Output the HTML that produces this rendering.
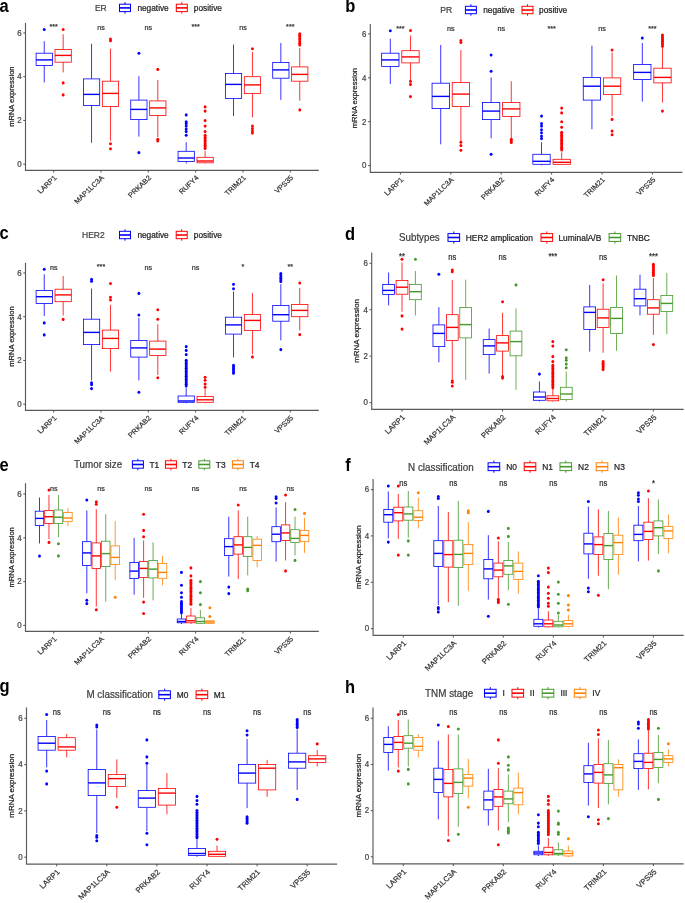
<!DOCTYPE html>
<html><head><meta charset="utf-8"><style>
html,body{margin:0;padding:0;background:#fff;}
body{width:685px;height:903px;overflow:hidden;}
svg{display:block;font-family:"Liberation Sans",sans-serif;will-change:transform;}
</style></head><body>
<svg width="685" height="903" viewBox="0 0 685 903">
<rect width="685" height="903" fill="#fff"/>
<text transform="translate(-0.6,11.6) scale(1,1.07)" font-size="16.5" text-anchor="start" fill="#000" font-weight="bold">a</text>
<path d="M44.24 41.2V53.2M44.24 65.4V82.4" stroke="#0000FF" stroke-width="0.8" fill="none"/>
<rect x="36.1" y="53.2" width="16.28" height="12.2" fill="#fff" stroke="#0000FF" stroke-width="0.8"/>
<path d="M36.1 59.9H52.38" stroke="#0000FF" stroke-width="1.4"/>
<ellipse cx="44.24" cy="29.5" rx="1.45" ry="1.55" fill="#0000FF"/>
<path d="M63.16 34.2V49.5M63.16 62.2V72.4" stroke="#FF0000" stroke-width="0.8" fill="none"/>
<rect x="55.02" y="49.5" width="16.28" height="12.7" fill="#fff" stroke="#FF0000" stroke-width="0.8"/>
<path d="M55.02 55.4H71.3" stroke="#FF0000" stroke-width="1.4"/>
<ellipse cx="63.16" cy="29.5" rx="1.45" ry="1.55" fill="#FF0000"/>
<ellipse cx="63.16" cy="82.9" rx="1.45" ry="1.55" fill="#FF0000"/>
<ellipse cx="63.16" cy="94.9" rx="1.45" ry="1.55" fill="#FF0000"/>
<path d="M91.56 43.7V78.9M91.56 105.4V142.8" stroke="#0000FF" stroke-width="0.8" fill="none"/>
<rect x="83.42" y="78.9" width="16.28" height="26.5" fill="#fff" stroke="#0000FF" stroke-width="0.8"/>
<path d="M83.42 94.4H99.7" stroke="#0000FF" stroke-width="1.4"/>
<path d="M110.48 48.7V81.2M110.48 106.4V140.8" stroke="#FF0000" stroke-width="0.8" fill="none"/>
<rect x="102.34" y="81.2" width="16.28" height="25.2" fill="#fff" stroke="#FF0000" stroke-width="0.8"/>
<path d="M102.34 93.4H118.62" stroke="#FF0000" stroke-width="1.4"/>
<ellipse cx="110.48" cy="39" rx="1.45" ry="1.55" fill="#FF0000"/>
<ellipse cx="110.48" cy="40.7" rx="1.45" ry="1.55" fill="#FF0000"/>
<ellipse cx="110.48" cy="143.8" rx="1.45" ry="1.55" fill="#FF0000"/>
<ellipse cx="110.48" cy="148.8" rx="1.45" ry="1.55" fill="#FF0000"/>
<path d="M138.88 76.2V100.1M138.88 119.6V136.6" stroke="#0000FF" stroke-width="0.8" fill="none"/>
<rect x="130.74" y="100.1" width="16.28" height="19.5" fill="#fff" stroke="#0000FF" stroke-width="0.8"/>
<path d="M130.74 109.4H147.02" stroke="#0000FF" stroke-width="1.4"/>
<ellipse cx="138.88" cy="53.2" rx="1.45" ry="1.55" fill="#0000FF"/>
<ellipse cx="138.88" cy="152.6" rx="1.45" ry="1.55" fill="#0000FF"/>
<path d="M157.8 79.9V100.9M157.8 115.6V137" stroke="#FF0000" stroke-width="0.8" fill="none"/>
<rect x="149.66" y="100.9" width="16.28" height="14.7" fill="#fff" stroke="#FF0000" stroke-width="0.8"/>
<path d="M149.66 107.9H165.94" stroke="#FF0000" stroke-width="1.4"/>
<ellipse cx="157.8" cy="69.4" rx="1.45" ry="1.55" fill="#FF0000"/>
<ellipse cx="157.8" cy="139.3" rx="1.45" ry="1.55" fill="#FF0000"/>
<ellipse cx="157.8" cy="140.9" rx="1.45" ry="1.55" fill="#FF0000"/>
<path d="M186.2 142.3V151.3M186.2 161.5V163.5" stroke="#0000FF" stroke-width="0.8" fill="none"/>
<rect x="178.06" y="151.3" width="16.28" height="10.2" fill="#fff" stroke="#0000FF" stroke-width="0.8"/>
<path d="M178.06 158H194.34" stroke="#0000FF" stroke-width="1.4"/>
<ellipse cx="186.2" cy="114.9" rx="1.45" ry="1.55" fill="#0000FF"/>
<ellipse cx="186.2" cy="121.8" rx="1.45" ry="1.55" fill="#0000FF"/>
<ellipse cx="186.2" cy="123.6" rx="1.45" ry="1.55" fill="#0000FF"/>
<ellipse cx="186.2" cy="126.1" rx="1.45" ry="1.55" fill="#0000FF"/>
<ellipse cx="186.2" cy="129.1" rx="1.45" ry="1.55" fill="#0000FF"/>
<ellipse cx="186.2" cy="131.6" rx="1.45" ry="1.55" fill="#0000FF"/>
<ellipse cx="186.2" cy="135.3" rx="1.45" ry="1.55" fill="#0000FF"/>
<path d="M205.12 151V157.3M205.12 162.8V163.5" stroke="#FF0000" stroke-width="0.8" fill="none"/>
<rect x="196.98" y="157.3" width="16.28" height="5.5" fill="#fff" stroke="#FF0000" stroke-width="0.8"/>
<path d="M196.98 161H213.26" stroke="#FF0000" stroke-width="1.4"/>
<ellipse cx="205.12" cy="106.9" rx="1.45" ry="1.55" fill="#FF0000"/>
<ellipse cx="205.12" cy="111.1" rx="1.45" ry="1.55" fill="#FF0000"/>
<ellipse cx="205.12" cy="120.6" rx="1.45" ry="1.55" fill="#FF0000"/>
<ellipse cx="205.12" cy="126.1" rx="1.45" ry="1.55" fill="#FF0000"/>
<ellipse cx="205.12" cy="131.6" rx="1.45" ry="1.55" fill="#FF0000"/>
<ellipse cx="205.12" cy="135.3" rx="1.45" ry="1.55" fill="#FF0000"/>
<ellipse cx="205.12" cy="137.3" rx="1.45" ry="1.55" fill="#FF0000"/>
<ellipse cx="205.12" cy="138.9" rx="1.45" ry="1.55" fill="#FF0000"/>
<ellipse cx="205.12" cy="140.5" rx="1.45" ry="1.55" fill="#FF0000"/>
<ellipse cx="205.12" cy="142.1" rx="1.45" ry="1.55" fill="#FF0000"/>
<ellipse cx="205.12" cy="143.7" rx="1.45" ry="1.55" fill="#FF0000"/>
<ellipse cx="205.12" cy="145.3" rx="1.45" ry="1.55" fill="#FF0000"/>
<ellipse cx="205.12" cy="146.9" rx="1.45" ry="1.55" fill="#FF0000"/>
<ellipse cx="205.12" cy="148.5" rx="1.45" ry="1.55" fill="#FF0000"/>
<path d="M233.52 44.5V73.4M233.52 98.4V116.1" stroke="#0000FF" stroke-width="0.8" fill="none"/>
<rect x="225.38" y="73.4" width="16.28" height="25" fill="#fff" stroke="#0000FF" stroke-width="0.8"/>
<path d="M225.38 84.4H241.66" stroke="#0000FF" stroke-width="1.4"/>
<path d="M252.44 52V76.7M252.44 93.6V117.4" stroke="#FF0000" stroke-width="0.8" fill="none"/>
<rect x="244.3" y="76.7" width="16.28" height="16.9" fill="#fff" stroke="#FF0000" stroke-width="0.8"/>
<path d="M244.3 84.9H260.58" stroke="#FF0000" stroke-width="1.4"/>
<ellipse cx="252.44" cy="48.7" rx="1.45" ry="1.55" fill="#FF0000"/>
<ellipse cx="252.44" cy="126.1" rx="1.45" ry="1.55" fill="#FF0000"/>
<ellipse cx="252.44" cy="128.6" rx="1.45" ry="1.55" fill="#FF0000"/>
<ellipse cx="252.44" cy="131.1" rx="1.45" ry="1.55" fill="#FF0000"/>
<ellipse cx="252.44" cy="133.1" rx="1.45" ry="1.55" fill="#FF0000"/>
<path d="M280.84 43V62.4M280.84 78.2V99.9" stroke="#0000FF" stroke-width="0.8" fill="none"/>
<rect x="272.7" y="62.4" width="16.28" height="15.8" fill="#fff" stroke="#0000FF" stroke-width="0.8"/>
<path d="M272.7 69.9H288.98" stroke="#0000FF" stroke-width="1.4"/>
<path d="M299.76 48V66.9M299.76 81.2V100.6" stroke="#FF0000" stroke-width="0.8" fill="none"/>
<rect x="291.62" y="66.9" width="16.28" height="14.3" fill="#fff" stroke="#FF0000" stroke-width="0.8"/>
<path d="M291.62 74.4H307.9" stroke="#FF0000" stroke-width="1.4"/>
<ellipse cx="299.76" cy="33.7" rx="1.45" ry="1.55" fill="#FF0000"/>
<ellipse cx="299.76" cy="35.3" rx="1.45" ry="1.55" fill="#FF0000"/>
<ellipse cx="299.76" cy="36.9" rx="1.45" ry="1.55" fill="#FF0000"/>
<ellipse cx="299.76" cy="38.5" rx="1.45" ry="1.55" fill="#FF0000"/>
<ellipse cx="299.76" cy="40.1" rx="1.45" ry="1.55" fill="#FF0000"/>
<ellipse cx="299.76" cy="41.7" rx="1.45" ry="1.55" fill="#FF0000"/>
<ellipse cx="299.76" cy="43.3" rx="1.45" ry="1.55" fill="#FF0000"/>
<ellipse cx="299.76" cy="44.9" rx="1.45" ry="1.55" fill="#FF0000"/>
<ellipse cx="299.76" cy="109.9" rx="1.45" ry="1.55" fill="#FF0000"/>
<path d="M25.5 23V170.3H318.8" stroke="#5a5a5a" stroke-width="1.15" fill="none"/>
<path d="M23.3 164.2H25.5" stroke="#5a5a5a" stroke-width="1.1"/>
<text transform="translate(21.6,167) scale(1,1.07)" font-size="7.9" text-anchor="end" fill="#444" stroke="#444" stroke-width="0.22">0</text>
<path d="M23.3 120.44H25.5" stroke="#5a5a5a" stroke-width="1.1"/>
<text transform="translate(21.6,123.24) scale(1,1.07)" font-size="7.9" text-anchor="end" fill="#444" stroke="#444" stroke-width="0.22">2</text>
<path d="M23.3 76.68H25.5" stroke="#5a5a5a" stroke-width="1.1"/>
<text transform="translate(21.6,79.48) scale(1,1.07)" font-size="7.9" text-anchor="end" fill="#444" stroke="#444" stroke-width="0.22">4</text>
<path d="M23.3 32.92H25.5" stroke="#5a5a5a" stroke-width="1.1"/>
<text transform="translate(21.6,35.72) scale(1,1.07)" font-size="7.9" text-anchor="end" fill="#444" stroke="#444" stroke-width="0.22">6</text>
<path d="M53.7 170.3V172.5" stroke="#5a5a5a" stroke-width="1.1"/>
<text transform="translate(57.1,178.3) scale(1,0.95) rotate(-45)" font-size="7.4" text-anchor="end" fill="#333" stroke="#333" stroke-width="0.22">LARP1</text>
<path d="M101.02 170.3V172.5" stroke="#5a5a5a" stroke-width="1.1"/>
<text transform="translate(104.42,178.3) scale(1,0.95) rotate(-45)" font-size="7.4" text-anchor="end" fill="#333" stroke="#333" stroke-width="0.22">MAP1LC3A</text>
<path d="M148.34 170.3V172.5" stroke="#5a5a5a" stroke-width="1.1"/>
<text transform="translate(151.74,178.3) scale(1,0.95) rotate(-45)" font-size="7.4" text-anchor="end" fill="#333" stroke="#333" stroke-width="0.22">PRKAB2</text>
<path d="M195.66 170.3V172.5" stroke="#5a5a5a" stroke-width="1.1"/>
<text transform="translate(199.06,178.3) scale(1,0.95) rotate(-45)" font-size="7.4" text-anchor="end" fill="#333" stroke="#333" stroke-width="0.22">RUFY4</text>
<path d="M242.98 170.3V172.5" stroke="#5a5a5a" stroke-width="1.1"/>
<text transform="translate(246.38,178.3) scale(1,0.95) rotate(-45)" font-size="7.4" text-anchor="end" fill="#333" stroke="#333" stroke-width="0.22">TRIM21</text>
<path d="M290.3 170.3V172.5" stroke="#5a5a5a" stroke-width="1.1"/>
<text transform="translate(293.7,178.3) scale(1,0.95) rotate(-45)" font-size="7.4" text-anchor="end" fill="#333" stroke="#333" stroke-width="0.22">VPS35</text>
<text transform="translate(13.6,96.65) scale(1,1.07) rotate(-90)" font-size="7.05" text-anchor="middle" fill="#222" stroke="#222" stroke-width="0.22">mRNA expression</text>
<text transform="translate(53.7,29.4) scale(1,1.07)" font-size="7.2" text-anchor="middle" fill="#333" stroke="#333" stroke-width="0.22">***</text>
<text transform="translate(101.02,30.15) scale(1,1.07)" font-size="7.2" text-anchor="middle" fill="#333" stroke="#333" stroke-width="0.22">ns</text>
<text transform="translate(148.34,30.15) scale(1,1.07)" font-size="7.2" text-anchor="middle" fill="#333" stroke="#333" stroke-width="0.22">ns</text>
<text transform="translate(195.66,29.4) scale(1,1.07)" font-size="7.2" text-anchor="middle" fill="#333" stroke="#333" stroke-width="0.22">***</text>
<text transform="translate(242.98,30.15) scale(1,1.07)" font-size="7.2" text-anchor="middle" fill="#333" stroke="#333" stroke-width="0.22">ns</text>
<text transform="translate(290.3,29.4) scale(1,1.07)" font-size="7.2" text-anchor="middle" fill="#333" stroke="#333" stroke-width="0.22">***</text>
<text transform="translate(94.9,10.9) scale(1,1.07)" font-size="8.5" text-anchor="start" fill="#404040" stroke="#404040" stroke-width="0.22">ER</text>
<path d="M125 2.2V4.2M125 11.6V13.6" stroke="#0000FF" stroke-width="1.0"/>
<rect x="119.5" y="4.2" width="11" height="7.4" fill="#fff" stroke="#0000FF" stroke-width="1.0"/>
<path d="M119.5 7.9H130.5" stroke="#0000FF" stroke-width="1.6"/>
<text transform="translate(137.4,10.9) scale(1,1.07)" font-size="8.3" text-anchor="start" fill="#222" stroke="#222" stroke-width="0.22">negative</text>
<path d="M181.8 2.2V4.2M181.8 11.6V13.6" stroke="#FF0000" stroke-width="1.0"/>
<rect x="176.3" y="4.2" width="11" height="7.4" fill="#fff" stroke="#FF0000" stroke-width="1.0"/>
<path d="M176.3 7.9H187.3" stroke="#FF0000" stroke-width="1.6"/>
<text transform="translate(193.8,10.9) scale(1,1.07)" font-size="8.3" text-anchor="start" fill="#222" stroke="#222" stroke-width="0.22">positive</text>
<text transform="translate(345.2,11.9) scale(1,1.07)" font-size="16.5" text-anchor="start" fill="#000" font-weight="bold">b</text>
<path d="M390.32 38.7V53.2M390.32 66.4V83.9" stroke="#0000FF" stroke-width="0.8" fill="none"/>
<rect x="381.65" y="53.2" width="17.34" height="13.2" fill="#fff" stroke="#0000FF" stroke-width="0.8"/>
<path d="M381.65 59.9H398.99" stroke="#0000FF" stroke-width="1.4"/>
<ellipse cx="390.32" cy="30.7" rx="1.45" ry="1.55" fill="#0000FF"/>
<path d="M410.48 35.5V50.7M410.48 62.9V79.9" stroke="#FF0000" stroke-width="0.8" fill="none"/>
<rect x="401.81" y="50.7" width="17.34" height="12.2" fill="#fff" stroke="#FF0000" stroke-width="0.8"/>
<path d="M401.81 56.9H419.15" stroke="#FF0000" stroke-width="1.4"/>
<ellipse cx="410.48" cy="30.5" rx="1.45" ry="1.55" fill="#FF0000"/>
<ellipse cx="410.48" cy="81.2" rx="1.45" ry="1.55" fill="#FF0000"/>
<ellipse cx="410.48" cy="84.4" rx="1.45" ry="1.55" fill="#FF0000"/>
<ellipse cx="410.48" cy="96.6" rx="1.45" ry="1.55" fill="#FF0000"/>
<path d="M440.72 45V83.2M440.72 108.6V144.3" stroke="#0000FF" stroke-width="0.8" fill="none"/>
<rect x="432.05" y="83.2" width="17.34" height="25.4" fill="#fff" stroke="#0000FF" stroke-width="0.8"/>
<path d="M432.05 96.4H449.39" stroke="#0000FF" stroke-width="1.4"/>
<path d="M460.88 50V82.4M460.88 106.4V141.1" stroke="#FF0000" stroke-width="0.8" fill="none"/>
<rect x="452.21" y="82.4" width="17.34" height="24" fill="#fff" stroke="#FF0000" stroke-width="0.8"/>
<path d="M452.21 94.1H469.55" stroke="#FF0000" stroke-width="1.4"/>
<ellipse cx="460.88" cy="40.5" rx="1.45" ry="1.55" fill="#FF0000"/>
<ellipse cx="460.88" cy="42.5" rx="1.45" ry="1.55" fill="#FF0000"/>
<ellipse cx="460.88" cy="142.3" rx="1.45" ry="1.55" fill="#FF0000"/>
<ellipse cx="460.88" cy="145.6" rx="1.45" ry="1.55" fill="#FF0000"/>
<ellipse cx="460.88" cy="150.3" rx="1.45" ry="1.55" fill="#FF0000"/>
<path d="M491.12 77.4V102.4M491.12 119.6V138.3" stroke="#0000FF" stroke-width="0.8" fill="none"/>
<rect x="482.45" y="102.4" width="17.34" height="17.2" fill="#fff" stroke="#0000FF" stroke-width="0.8"/>
<path d="M482.45 111.1H499.79" stroke="#0000FF" stroke-width="1.4"/>
<ellipse cx="491.12" cy="55" rx="1.45" ry="1.55" fill="#0000FF"/>
<ellipse cx="491.12" cy="71.2" rx="1.45" ry="1.55" fill="#0000FF"/>
<ellipse cx="491.12" cy="154.3" rx="1.45" ry="1.55" fill="#0000FF"/>
<path d="M511.28 81.2V102.4M511.28 116.4V138.6" stroke="#FF0000" stroke-width="0.8" fill="none"/>
<rect x="502.61" y="102.4" width="17.34" height="14" fill="#fff" stroke="#FF0000" stroke-width="0.8"/>
<path d="M502.61 108.9H519.95" stroke="#FF0000" stroke-width="1.4"/>
<ellipse cx="511.28" cy="139.3" rx="1.45" ry="1.55" fill="#FF0000"/>
<ellipse cx="511.28" cy="140.9" rx="1.45" ry="1.55" fill="#FF0000"/>
<ellipse cx="511.28" cy="142.5" rx="1.45" ry="1.55" fill="#FF0000"/>
<path d="M541.52 142.3V154.3M541.52 164.3V165.3" stroke="#0000FF" stroke-width="0.8" fill="none"/>
<rect x="532.85" y="154.3" width="17.34" height="10" fill="#fff" stroke="#0000FF" stroke-width="0.8"/>
<path d="M532.85 161.3H550.19" stroke="#0000FF" stroke-width="1.4"/>
<ellipse cx="541.52" cy="116.1" rx="1.45" ry="1.55" fill="#0000FF"/>
<ellipse cx="541.52" cy="123.6" rx="1.45" ry="1.55" fill="#0000FF"/>
<ellipse cx="541.52" cy="126.1" rx="1.45" ry="1.55" fill="#0000FF"/>
<ellipse cx="541.52" cy="129.8" rx="1.45" ry="1.55" fill="#0000FF"/>
<ellipse cx="541.52" cy="132.8" rx="1.45" ry="1.55" fill="#0000FF"/>
<ellipse cx="541.52" cy="136.1" rx="1.45" ry="1.55" fill="#0000FF"/>
<ellipse cx="541.52" cy="138.6" rx="1.45" ry="1.55" fill="#0000FF"/>
<path d="M561.68 152.3V159.3M561.68 164.3V164.8" stroke="#FF0000" stroke-width="0.8" fill="none"/>
<rect x="553.01" y="159.3" width="17.34" height="5" fill="#fff" stroke="#FF0000" stroke-width="0.8"/>
<path d="M553.01 162.3H570.35" stroke="#FF0000" stroke-width="1.4"/>
<ellipse cx="561.68" cy="108.1" rx="1.45" ry="1.55" fill="#FF0000"/>
<ellipse cx="561.68" cy="112.9" rx="1.45" ry="1.55" fill="#FF0000"/>
<ellipse cx="561.68" cy="121.8" rx="1.45" ry="1.55" fill="#FF0000"/>
<ellipse cx="561.68" cy="127.3" rx="1.45" ry="1.55" fill="#FF0000"/>
<ellipse cx="561.68" cy="132.3" rx="1.45" ry="1.55" fill="#FF0000"/>
<ellipse cx="561.68" cy="133.9" rx="1.45" ry="1.55" fill="#FF0000"/>
<ellipse cx="561.68" cy="135.5" rx="1.45" ry="1.55" fill="#FF0000"/>
<ellipse cx="561.68" cy="137.1" rx="1.45" ry="1.55" fill="#FF0000"/>
<ellipse cx="561.68" cy="138.7" rx="1.45" ry="1.55" fill="#FF0000"/>
<ellipse cx="561.68" cy="140.3" rx="1.45" ry="1.55" fill="#FF0000"/>
<ellipse cx="561.68" cy="141.9" rx="1.45" ry="1.55" fill="#FF0000"/>
<ellipse cx="561.68" cy="143.5" rx="1.45" ry="1.55" fill="#FF0000"/>
<ellipse cx="561.68" cy="145.1" rx="1.45" ry="1.55" fill="#FF0000"/>
<ellipse cx="561.68" cy="146.7" rx="1.45" ry="1.55" fill="#FF0000"/>
<ellipse cx="561.68" cy="148.3" rx="1.45" ry="1.55" fill="#FF0000"/>
<ellipse cx="561.68" cy="149.9" rx="1.45" ry="1.55" fill="#FF0000"/>
<path d="M591.92 45.7V77.4M591.92 100.1V129.3" stroke="#0000FF" stroke-width="0.8" fill="none"/>
<rect x="583.25" y="77.4" width="17.34" height="22.7" fill="#fff" stroke="#0000FF" stroke-width="0.8"/>
<path d="M583.25 86.2H600.59" stroke="#0000FF" stroke-width="1.4"/>
<path d="M612.08 52.5V77.9M612.08 94.4V116.1" stroke="#FF0000" stroke-width="0.8" fill="none"/>
<rect x="603.41" y="77.9" width="17.34" height="16.5" fill="#fff" stroke="#FF0000" stroke-width="0.8"/>
<path d="M603.41 86.2H620.75" stroke="#FF0000" stroke-width="1.4"/>
<ellipse cx="612.08" cy="50" rx="1.45" ry="1.55" fill="#FF0000"/>
<ellipse cx="612.08" cy="119.4" rx="1.45" ry="1.55" fill="#FF0000"/>
<ellipse cx="612.08" cy="131.1" rx="1.45" ry="1.55" fill="#FF0000"/>
<ellipse cx="612.08" cy="134.8" rx="1.45" ry="1.55" fill="#FF0000"/>
<path d="M642.32 43V64.4M642.32 79.4V101.6" stroke="#0000FF" stroke-width="0.8" fill="none"/>
<rect x="633.65" y="64.4" width="17.34" height="15" fill="#fff" stroke="#0000FF" stroke-width="0.8"/>
<path d="M633.65 72.4H650.99" stroke="#0000FF" stroke-width="1.4"/>
<ellipse cx="642.32" cy="38" rx="1.45" ry="1.55" fill="#0000FF"/>
<path d="M662.48 47V68.2M662.48 82.9V102.4" stroke="#FF0000" stroke-width="0.8" fill="none"/>
<rect x="653.81" y="68.2" width="17.34" height="14.7" fill="#fff" stroke="#FF0000" stroke-width="0.8"/>
<path d="M653.81 77.4H671.15" stroke="#FF0000" stroke-width="1.4"/>
<ellipse cx="662.48" cy="35" rx="1.45" ry="1.55" fill="#FF0000"/>
<ellipse cx="662.48" cy="36.6" rx="1.45" ry="1.55" fill="#FF0000"/>
<ellipse cx="662.48" cy="38.2" rx="1.45" ry="1.55" fill="#FF0000"/>
<ellipse cx="662.48" cy="39.8" rx="1.45" ry="1.55" fill="#FF0000"/>
<ellipse cx="662.48" cy="41.4" rx="1.45" ry="1.55" fill="#FF0000"/>
<ellipse cx="662.48" cy="43" rx="1.45" ry="1.55" fill="#FF0000"/>
<ellipse cx="662.48" cy="44.6" rx="1.45" ry="1.55" fill="#FF0000"/>
<ellipse cx="662.48" cy="46.2" rx="1.45" ry="1.55" fill="#FF0000"/>
<ellipse cx="662.48" cy="111.1" rx="1.45" ry="1.55" fill="#FF0000"/>
<path d="M370.3 23.9V172.3H682.4" stroke="#5a5a5a" stroke-width="1.15" fill="none"/>
<path d="M368.1 165.6H370.3" stroke="#5a5a5a" stroke-width="1.1"/>
<text transform="translate(366.4,168.4) scale(1,1.07)" font-size="7.9" text-anchor="end" fill="#444" stroke="#444" stroke-width="0.22">0</text>
<path d="M368.1 121.7H370.3" stroke="#5a5a5a" stroke-width="1.1"/>
<text transform="translate(366.4,124.5) scale(1,1.07)" font-size="7.9" text-anchor="end" fill="#444" stroke="#444" stroke-width="0.22">2</text>
<path d="M368.1 77.8H370.3" stroke="#5a5a5a" stroke-width="1.1"/>
<text transform="translate(366.4,80.6) scale(1,1.07)" font-size="7.9" text-anchor="end" fill="#444" stroke="#444" stroke-width="0.22">4</text>
<path d="M368.1 33.9H370.3" stroke="#5a5a5a" stroke-width="1.1"/>
<text transform="translate(366.4,36.7) scale(1,1.07)" font-size="7.9" text-anchor="end" fill="#444" stroke="#444" stroke-width="0.22">6</text>
<path d="M400.4 172.3V174.5" stroke="#5a5a5a" stroke-width="1.1"/>
<text transform="translate(403.8,180.3) scale(1,0.95) rotate(-45)" font-size="7.4" text-anchor="end" fill="#333" stroke="#333" stroke-width="0.22">LARP1</text>
<path d="M450.8 172.3V174.5" stroke="#5a5a5a" stroke-width="1.1"/>
<text transform="translate(454.2,180.3) scale(1,0.95) rotate(-45)" font-size="7.4" text-anchor="end" fill="#333" stroke="#333" stroke-width="0.22">MAP1LC3A</text>
<path d="M501.2 172.3V174.5" stroke="#5a5a5a" stroke-width="1.1"/>
<text transform="translate(504.6,180.3) scale(1,0.95) rotate(-45)" font-size="7.4" text-anchor="end" fill="#333" stroke="#333" stroke-width="0.22">PRKAB2</text>
<path d="M551.6 172.3V174.5" stroke="#5a5a5a" stroke-width="1.1"/>
<text transform="translate(555,180.3) scale(1,0.95) rotate(-45)" font-size="7.4" text-anchor="end" fill="#333" stroke="#333" stroke-width="0.22">RUFY4</text>
<path d="M602 172.3V174.5" stroke="#5a5a5a" stroke-width="1.1"/>
<text transform="translate(605.4,180.3) scale(1,0.95) rotate(-45)" font-size="7.4" text-anchor="end" fill="#333" stroke="#333" stroke-width="0.22">TRIM21</text>
<path d="M652.4 172.3V174.5" stroke="#5a5a5a" stroke-width="1.1"/>
<text transform="translate(655.8,180.3) scale(1,0.95) rotate(-45)" font-size="7.4" text-anchor="end" fill="#333" stroke="#333" stroke-width="0.22">VPS35</text>
<text transform="translate(357.1,98.1) scale(1,1.07) rotate(-90)" font-size="7.05" text-anchor="middle" fill="#222" stroke="#222" stroke-width="0.22">mRNA expression</text>
<text transform="translate(400.4,30.6) scale(1,1.07)" font-size="7.2" text-anchor="middle" fill="#333" stroke="#333" stroke-width="0.22">***</text>
<text transform="translate(450.8,31.35) scale(1,1.07)" font-size="7.2" text-anchor="middle" fill="#333" stroke="#333" stroke-width="0.22">ns</text>
<text transform="translate(501.2,31.35) scale(1,1.07)" font-size="7.2" text-anchor="middle" fill="#333" stroke="#333" stroke-width="0.22">ns</text>
<text transform="translate(551.6,30.6) scale(1,1.07)" font-size="7.2" text-anchor="middle" fill="#333" stroke="#333" stroke-width="0.22">***</text>
<text transform="translate(602,31.35) scale(1,1.07)" font-size="7.2" text-anchor="middle" fill="#333" stroke="#333" stroke-width="0.22">ns</text>
<text transform="translate(652.4,30.6) scale(1,1.07)" font-size="7.2" text-anchor="middle" fill="#333" stroke="#333" stroke-width="0.22">***</text>
<text transform="translate(440.2,13.04) scale(1,1.07)" font-size="8.6" text-anchor="start" fill="#404040" stroke="#404040" stroke-width="0.22">PR</text>
<path d="M470.9 4.3V6.3M470.9 13.7V15.7" stroke="#0000FF" stroke-width="1.0"/>
<rect x="465.4" y="6.3" width="11" height="7.4" fill="#fff" stroke="#0000FF" stroke-width="1.0"/>
<path d="M465.4 10H476.4" stroke="#0000FF" stroke-width="1.6"/>
<text transform="translate(483.2,13) scale(1,1.07)" font-size="8.3" text-anchor="start" fill="#222" stroke="#222" stroke-width="0.22">negative</text>
<path d="M527.5 4.3V6.3M527.5 13.7V15.7" stroke="#FF0000" stroke-width="1.0"/>
<rect x="522" y="6.3" width="11" height="7.4" fill="#fff" stroke="#FF0000" stroke-width="1.0"/>
<path d="M522 10H533" stroke="#FF0000" stroke-width="1.6"/>
<text transform="translate(539.1,13) scale(1,1.07)" font-size="8.3" text-anchor="start" fill="#222" stroke="#222" stroke-width="0.22">positive</text>
<text transform="translate(-0.6,239.4) scale(1,1.07)" font-size="16.5" text-anchor="start" fill="#000" font-weight="bold">c</text>
<path d="M44.24 274.2V290.5M44.24 303.4V316" stroke="#0000FF" stroke-width="0.8" fill="none"/>
<rect x="36.1" y="290.5" width="16.28" height="12.9" fill="#fff" stroke="#0000FF" stroke-width="0.8"/>
<path d="M36.1 296.7H52.38" stroke="#0000FF" stroke-width="1.4"/>
<ellipse cx="44.24" cy="269.2" rx="1.45" ry="1.55" fill="#0000FF"/>
<ellipse cx="44.24" cy="322.9" rx="1.45" ry="1.55" fill="#0000FF"/>
<ellipse cx="44.24" cy="334.9" rx="1.45" ry="1.55" fill="#0000FF"/>
<path d="M63.16 276V289.2M63.16 301.7V315.5" stroke="#FF0000" stroke-width="0.8" fill="none"/>
<rect x="55.02" y="289.2" width="16.28" height="12.5" fill="#fff" stroke="#FF0000" stroke-width="0.8"/>
<path d="M55.02 294.9H71.3" stroke="#FF0000" stroke-width="1.4"/>
<ellipse cx="63.16" cy="319.4" rx="1.45" ry="1.55" fill="#FF0000"/>
<path d="M91.56 288.5V319.2M91.56 344.6V380.3" stroke="#0000FF" stroke-width="0.8" fill="none"/>
<rect x="83.42" y="319.2" width="16.28" height="25.4" fill="#fff" stroke="#0000FF" stroke-width="0.8"/>
<path d="M83.42 332.4H99.7" stroke="#0000FF" stroke-width="1.4"/>
<ellipse cx="91.56" cy="279.2" rx="1.45" ry="1.55" fill="#0000FF"/>
<ellipse cx="91.56" cy="281.2" rx="1.45" ry="1.55" fill="#0000FF"/>
<ellipse cx="91.56" cy="382.8" rx="1.45" ry="1.55" fill="#0000FF"/>
<ellipse cx="91.56" cy="384.6" rx="1.45" ry="1.55" fill="#0000FF"/>
<ellipse cx="91.56" cy="388.6" rx="1.45" ry="1.55" fill="#0000FF"/>
<path d="M110.48 304.9V330.1M110.48 348.6V371.6" stroke="#FF0000" stroke-width="0.8" fill="none"/>
<rect x="102.34" y="330.1" width="16.28" height="18.5" fill="#fff" stroke="#FF0000" stroke-width="0.8"/>
<path d="M102.34 338.4H118.62" stroke="#FF0000" stroke-width="1.4"/>
<ellipse cx="110.48" cy="283.5" rx="1.45" ry="1.55" fill="#FF0000"/>
<ellipse cx="110.48" cy="297.2" rx="1.45" ry="1.55" fill="#FF0000"/>
<ellipse cx="110.48" cy="300" rx="1.45" ry="1.55" fill="#FF0000"/>
<path d="M138.88 317.9V340.4M138.88 357.1V380.3" stroke="#0000FF" stroke-width="0.8" fill="none"/>
<rect x="130.74" y="340.4" width="16.28" height="16.7" fill="#fff" stroke="#0000FF" stroke-width="0.8"/>
<path d="M130.74 347.9H147.02" stroke="#0000FF" stroke-width="1.4"/>
<ellipse cx="138.88" cy="293.4" rx="1.45" ry="1.55" fill="#0000FF"/>
<ellipse cx="138.88" cy="315" rx="1.45" ry="1.55" fill="#0000FF"/>
<ellipse cx="138.88" cy="392.3" rx="1.45" ry="1.55" fill="#0000FF"/>
<path d="M157.8 324.2V341.1M157.8 355.4V375" stroke="#FF0000" stroke-width="0.8" fill="none"/>
<rect x="149.66" y="341.1" width="16.28" height="14.3" fill="#fff" stroke="#FF0000" stroke-width="0.8"/>
<path d="M149.66 349.1H165.94" stroke="#FF0000" stroke-width="1.4"/>
<ellipse cx="157.8" cy="309.7" rx="1.45" ry="1.55" fill="#FF0000"/>
<ellipse cx="157.8" cy="319.2" rx="1.45" ry="1.55" fill="#FF0000"/>
<ellipse cx="157.8" cy="377.8" rx="1.45" ry="1.55" fill="#FF0000"/>
<path d="M186.2 387.8V396M186.2 402.3V403.3" stroke="#0000FF" stroke-width="0.8" fill="none"/>
<rect x="178.06" y="396" width="16.28" height="6.3" fill="#fff" stroke="#0000FF" stroke-width="0.8"/>
<path d="M178.06 401H194.34" stroke="#0000FF" stroke-width="1.4"/>
<ellipse cx="186.2" cy="346.6" rx="1.45" ry="1.55" fill="#0000FF"/>
<ellipse cx="186.2" cy="350.4" rx="1.45" ry="1.55" fill="#0000FF"/>
<ellipse cx="186.2" cy="354.6" rx="1.45" ry="1.55" fill="#0000FF"/>
<ellipse cx="186.2" cy="360.3" rx="1.45" ry="1.55" fill="#0000FF"/>
<ellipse cx="186.2" cy="361.9" rx="1.45" ry="1.55" fill="#0000FF"/>
<ellipse cx="186.2" cy="363.5" rx="1.45" ry="1.55" fill="#0000FF"/>
<ellipse cx="186.2" cy="365.1" rx="1.45" ry="1.55" fill="#0000FF"/>
<ellipse cx="186.2" cy="366.7" rx="1.45" ry="1.55" fill="#0000FF"/>
<ellipse cx="186.2" cy="368.3" rx="1.45" ry="1.55" fill="#0000FF"/>
<ellipse cx="186.2" cy="369.9" rx="1.45" ry="1.55" fill="#0000FF"/>
<ellipse cx="186.2" cy="371.5" rx="1.45" ry="1.55" fill="#0000FF"/>
<ellipse cx="186.2" cy="373.1" rx="1.45" ry="1.55" fill="#0000FF"/>
<ellipse cx="186.2" cy="374.7" rx="1.45" ry="1.55" fill="#0000FF"/>
<ellipse cx="186.2" cy="376.3" rx="1.45" ry="1.55" fill="#0000FF"/>
<ellipse cx="186.2" cy="377.9" rx="1.45" ry="1.55" fill="#0000FF"/>
<ellipse cx="186.2" cy="379.5" rx="1.45" ry="1.55" fill="#0000FF"/>
<ellipse cx="186.2" cy="381.1" rx="1.45" ry="1.55" fill="#0000FF"/>
<ellipse cx="186.2" cy="382.7" rx="1.45" ry="1.55" fill="#0000FF"/>
<ellipse cx="186.2" cy="384.3" rx="1.45" ry="1.55" fill="#0000FF"/>
<ellipse cx="186.2" cy="385.9" rx="1.45" ry="1.55" fill="#0000FF"/>
<path d="M205.12 389V396.5M205.12 402.3V403.3" stroke="#FF0000" stroke-width="0.8" fill="none"/>
<rect x="196.98" y="396.5" width="16.28" height="5.8" fill="#fff" stroke="#FF0000" stroke-width="0.8"/>
<path d="M196.98 399.8H213.26" stroke="#FF0000" stroke-width="1.4"/>
<ellipse cx="205.12" cy="377.3" rx="1.45" ry="1.55" fill="#FF0000"/>
<ellipse cx="205.12" cy="380.3" rx="1.45" ry="1.55" fill="#FF0000"/>
<ellipse cx="205.12" cy="384.1" rx="1.45" ry="1.55" fill="#FF0000"/>
<ellipse cx="205.12" cy="387.3" rx="1.45" ry="1.55" fill="#FF0000"/>
<path d="M233.52 291.7V317.2M233.52 334.1V357.4" stroke="#0000FF" stroke-width="0.8" fill="none"/>
<rect x="225.38" y="317.2" width="16.28" height="16.9" fill="#fff" stroke="#0000FF" stroke-width="0.8"/>
<path d="M225.38 324.9H241.66" stroke="#0000FF" stroke-width="1.4"/>
<ellipse cx="233.52" cy="284.2" rx="1.45" ry="1.55" fill="#0000FF"/>
<ellipse cx="233.52" cy="288.7" rx="1.45" ry="1.55" fill="#0000FF"/>
<ellipse cx="233.52" cy="365.3" rx="1.45" ry="1.55" fill="#0000FF"/>
<ellipse cx="233.52" cy="366.9" rx="1.45" ry="1.55" fill="#0000FF"/>
<ellipse cx="233.52" cy="368.5" rx="1.45" ry="1.55" fill="#0000FF"/>
<ellipse cx="233.52" cy="370.1" rx="1.45" ry="1.55" fill="#0000FF"/>
<ellipse cx="233.52" cy="371.7" rx="1.45" ry="1.55" fill="#0000FF"/>
<ellipse cx="233.52" cy="373.3" rx="1.45" ry="1.55" fill="#0000FF"/>
<path d="M252.44 293V314.4M252.44 330.4V354.1" stroke="#FF0000" stroke-width="0.8" fill="none"/>
<rect x="244.3" y="314.4" width="16.28" height="16" fill="#fff" stroke="#FF0000" stroke-width="0.8"/>
<path d="M244.3 320.4H260.58" stroke="#FF0000" stroke-width="1.4"/>
<ellipse cx="252.44" cy="356.9" rx="1.45" ry="1.55" fill="#FF0000"/>
<path d="M280.84 284.2V305.4M280.84 321.2V340.4" stroke="#0000FF" stroke-width="0.8" fill="none"/>
<rect x="272.7" y="305.4" width="16.28" height="15.8" fill="#fff" stroke="#0000FF" stroke-width="0.8"/>
<path d="M272.7 314.7H288.98" stroke="#0000FF" stroke-width="1.4"/>
<ellipse cx="280.84" cy="273.5" rx="1.45" ry="1.55" fill="#0000FF"/>
<ellipse cx="280.84" cy="275.1" rx="1.45" ry="1.55" fill="#0000FF"/>
<ellipse cx="280.84" cy="276.7" rx="1.45" ry="1.55" fill="#0000FF"/>
<ellipse cx="280.84" cy="278.3" rx="1.45" ry="1.55" fill="#0000FF"/>
<ellipse cx="280.84" cy="279.9" rx="1.45" ry="1.55" fill="#0000FF"/>
<ellipse cx="280.84" cy="281.5" rx="1.45" ry="1.55" fill="#0000FF"/>
<ellipse cx="280.84" cy="349.6" rx="1.45" ry="1.55" fill="#0000FF"/>
<path d="M299.76 288V304.4M299.76 316.7V330.4" stroke="#FF0000" stroke-width="0.8" fill="none"/>
<rect x="291.62" y="304.4" width="16.28" height="12.3" fill="#fff" stroke="#FF0000" stroke-width="0.8"/>
<path d="M291.62 310.4H307.9" stroke="#FF0000" stroke-width="1.4"/>
<ellipse cx="299.76" cy="283" rx="1.45" ry="1.55" fill="#FF0000"/>
<ellipse cx="299.76" cy="334.6" rx="1.45" ry="1.55" fill="#FF0000"/>
<path d="M25.5 262.7V410.4H318.8" stroke="#5a5a5a" stroke-width="1.15" fill="none"/>
<path d="M23.3 404.2H25.5" stroke="#5a5a5a" stroke-width="1.1"/>
<text transform="translate(21.6,407) scale(1,1.07)" font-size="7.9" text-anchor="end" fill="#444" stroke="#444" stroke-width="0.22">0</text>
<path d="M23.3 360.46H25.5" stroke="#5a5a5a" stroke-width="1.1"/>
<text transform="translate(21.6,363.26) scale(1,1.07)" font-size="7.9" text-anchor="end" fill="#444" stroke="#444" stroke-width="0.22">2</text>
<path d="M23.3 316.72H25.5" stroke="#5a5a5a" stroke-width="1.1"/>
<text transform="translate(21.6,319.52) scale(1,1.07)" font-size="7.9" text-anchor="end" fill="#444" stroke="#444" stroke-width="0.22">4</text>
<path d="M23.3 272.98H25.5" stroke="#5a5a5a" stroke-width="1.1"/>
<text transform="translate(21.6,275.78) scale(1,1.07)" font-size="7.9" text-anchor="end" fill="#444" stroke="#444" stroke-width="0.22">6</text>
<path d="M53.7 410.4V412.6" stroke="#5a5a5a" stroke-width="1.1"/>
<text transform="translate(57.1,418.4) scale(1,0.95) rotate(-45)" font-size="7.4" text-anchor="end" fill="#333" stroke="#333" stroke-width="0.22">LARP1</text>
<path d="M101.02 410.4V412.6" stroke="#5a5a5a" stroke-width="1.1"/>
<text transform="translate(104.42,418.4) scale(1,0.95) rotate(-45)" font-size="7.4" text-anchor="end" fill="#333" stroke="#333" stroke-width="0.22">MAP1LC3A</text>
<path d="M148.34 410.4V412.6" stroke="#5a5a5a" stroke-width="1.1"/>
<text transform="translate(151.74,418.4) scale(1,0.95) rotate(-45)" font-size="7.4" text-anchor="end" fill="#333" stroke="#333" stroke-width="0.22">PRKAB2</text>
<path d="M195.66 410.4V412.6" stroke="#5a5a5a" stroke-width="1.1"/>
<text transform="translate(199.06,418.4) scale(1,0.95) rotate(-45)" font-size="7.4" text-anchor="end" fill="#333" stroke="#333" stroke-width="0.22">RUFY4</text>
<path d="M242.98 410.4V412.6" stroke="#5a5a5a" stroke-width="1.1"/>
<text transform="translate(246.38,418.4) scale(1,0.95) rotate(-45)" font-size="7.4" text-anchor="end" fill="#333" stroke="#333" stroke-width="0.22">TRIM21</text>
<path d="M290.3 410.4V412.6" stroke="#5a5a5a" stroke-width="1.1"/>
<text transform="translate(293.7,418.4) scale(1,0.95) rotate(-45)" font-size="7.4" text-anchor="end" fill="#333" stroke="#333" stroke-width="0.22">VPS35</text>
<text transform="translate(13.6,336.55) scale(1,1.07) rotate(-90)" font-size="7.05" text-anchor="middle" fill="#222" stroke="#222" stroke-width="0.22">mRNA expression</text>
<text transform="translate(53.7,270.15) scale(1,1.07)" font-size="7.2" text-anchor="middle" fill="#333" stroke="#333" stroke-width="0.22">ns</text>
<text transform="translate(101.02,269.4) scale(1,1.07)" font-size="7.2" text-anchor="middle" fill="#333" stroke="#333" stroke-width="0.22">***</text>
<text transform="translate(148.34,270.15) scale(1,1.07)" font-size="7.2" text-anchor="middle" fill="#333" stroke="#333" stroke-width="0.22">ns</text>
<text transform="translate(195.66,270.15) scale(1,1.07)" font-size="7.2" text-anchor="middle" fill="#333" stroke="#333" stroke-width="0.22">ns</text>
<text transform="translate(242.98,269.4) scale(1,1.07)" font-size="7.2" text-anchor="middle" fill="#333" stroke="#333" stroke-width="0.22">*</text>
<text transform="translate(290.3,269.4) scale(1,1.07)" font-size="7.2" text-anchor="middle" fill="#333" stroke="#333" stroke-width="0.22">**</text>
<text transform="translate(82,238) scale(1,1.07)" font-size="8.5" text-anchor="start" fill="#404040" stroke="#404040" stroke-width="0.22">HER2</text>
<path d="M125 229.3V231.3M125 238.7V240.7" stroke="#0000FF" stroke-width="1.0"/>
<rect x="119.5" y="231.3" width="11" height="7.4" fill="#fff" stroke="#0000FF" stroke-width="1.0"/>
<path d="M119.5 235H130.5" stroke="#0000FF" stroke-width="1.6"/>
<text transform="translate(137.4,238) scale(1,1.07)" font-size="8.3" text-anchor="start" fill="#222" stroke="#222" stroke-width="0.22">negative</text>
<path d="M181.7 229.3V231.3M181.7 238.7V240.7" stroke="#FF0000" stroke-width="1.0"/>
<rect x="176.2" y="231.3" width="11" height="7.4" fill="#fff" stroke="#FF0000" stroke-width="1.0"/>
<path d="M176.2 235H187.2" stroke="#FF0000" stroke-width="1.6"/>
<text transform="translate(193.8,238) scale(1,1.07)" font-size="8.3" text-anchor="start" fill="#222" stroke="#222" stroke-width="0.22">positive</text>
<text transform="translate(345,239.7) scale(1,1.07)" font-size="16.5" text-anchor="start" fill="#000" font-weight="bold">d</text>
<path d="M388.59 272.5V284.4M388.59 294.4V305.4" stroke="#0000FF" stroke-width="0.8" fill="none"/>
<rect x="382.69" y="284.4" width="11.8" height="10" fill="#fff" stroke="#0000FF" stroke-width="0.8"/>
<path d="M382.69 290.4H394.49" stroke="#0000FF" stroke-width="1.4"/>
<path d="M402 262.5V280.5M402 294.2V311.7" stroke="#FF0000" stroke-width="0.8" fill="none"/>
<rect x="396.1" y="280.5" width="11.8" height="13.7" fill="#fff" stroke="#FF0000" stroke-width="0.8"/>
<path d="M396.1 287.2H407.9" stroke="#FF0000" stroke-width="1.4"/>
<ellipse cx="402" cy="259.2" rx="1.45" ry="1.55" fill="#FF0000"/>
<ellipse cx="402" cy="315.9" rx="1.45" ry="1.55" fill="#FF0000"/>
<ellipse cx="402" cy="329.1" rx="1.45" ry="1.55" fill="#FF0000"/>
<path d="M415.41 271V284.4M415.41 299.7V315.4" stroke="#45982B" stroke-width="0.8" fill="none"/>
<rect x="409.51" y="284.4" width="11.8" height="15.3" fill="#fff" stroke="#45982B" stroke-width="0.8"/>
<path d="M409.51 291.7H421.31" stroke="#45982B" stroke-width="1.4"/>
<ellipse cx="415.41" cy="259.2" rx="1.45" ry="1.55" fill="#45982B"/>
<path d="M438.87 307.2V324.9M438.87 346.6V362.3" stroke="#0000FF" stroke-width="0.8" fill="none"/>
<rect x="432.97" y="324.9" width="11.8" height="21.7" fill="#fff" stroke="#0000FF" stroke-width="0.8"/>
<path d="M432.97 333.4H444.77" stroke="#0000FF" stroke-width="1.4"/>
<ellipse cx="438.87" cy="274.2" rx="1.45" ry="1.55" fill="#0000FF"/>
<path d="M452.28 280V314.7M452.28 340.4V379" stroke="#FF0000" stroke-width="0.8" fill="none"/>
<rect x="446.38" y="314.7" width="11.8" height="25.7" fill="#fff" stroke="#FF0000" stroke-width="0.8"/>
<path d="M446.38 327.4H458.18" stroke="#FF0000" stroke-width="1.4"/>
<ellipse cx="452.28" cy="270" rx="1.45" ry="1.55" fill="#FF0000"/>
<ellipse cx="452.28" cy="271.7" rx="1.45" ry="1.55" fill="#FF0000"/>
<ellipse cx="452.28" cy="380.8" rx="1.45" ry="1.55" fill="#FF0000"/>
<ellipse cx="452.28" cy="382.3" rx="1.45" ry="1.55" fill="#FF0000"/>
<ellipse cx="452.28" cy="386" rx="1.45" ry="1.55" fill="#FF0000"/>
<path d="M465.69 279.7V307.4M465.69 337.9V379.8" stroke="#45982B" stroke-width="0.8" fill="none"/>
<rect x="459.79" y="307.4" width="11.8" height="30.5" fill="#fff" stroke="#45982B" stroke-width="0.8"/>
<path d="M459.79 324.6H471.59" stroke="#45982B" stroke-width="1.4"/>
<path d="M489.15 328.6V339.6M489.15 354.6V373.6" stroke="#0000FF" stroke-width="0.8" fill="none"/>
<rect x="483.25" y="339.6" width="11.8" height="15" fill="#fff" stroke="#0000FF" stroke-width="0.8"/>
<path d="M483.25 345.9H495.05" stroke="#0000FF" stroke-width="1.4"/>
<path d="M502.56 312.9V335.4M502.56 351.1V375.3" stroke="#FF0000" stroke-width="0.8" fill="none"/>
<rect x="496.66" y="335.4" width="11.8" height="15.7" fill="#fff" stroke="#FF0000" stroke-width="0.8"/>
<path d="M496.66 342.9H508.46" stroke="#FF0000" stroke-width="1.4"/>
<ellipse cx="502.56" cy="301.7" rx="1.45" ry="1.55" fill="#FF0000"/>
<ellipse cx="502.56" cy="376.5" rx="1.45" ry="1.55" fill="#FF0000"/>
<ellipse cx="502.56" cy="378.1" rx="1.45" ry="1.55" fill="#FF0000"/>
<path d="M515.97 308.4V331.1M515.97 355.8V389.8" stroke="#45982B" stroke-width="0.8" fill="none"/>
<rect x="510.07" y="331.1" width="11.8" height="24.7" fill="#fff" stroke="#45982B" stroke-width="0.8"/>
<path d="M510.07 341.6H521.87" stroke="#45982B" stroke-width="1.4"/>
<ellipse cx="515.97" cy="284.9" rx="1.45" ry="1.55" fill="#45982B"/>
<path d="M539.43 381.5V392M539.43 400.3V401.5" stroke="#0000FF" stroke-width="0.8" fill="none"/>
<rect x="533.53" y="392" width="11.8" height="8.3" fill="#fff" stroke="#0000FF" stroke-width="0.8"/>
<path d="M533.53 397H545.33" stroke="#0000FF" stroke-width="1.4"/>
<ellipse cx="539.43" cy="374.1" rx="1.45" ry="1.55" fill="#0000FF"/>
<path d="M552.84 387.8V395.8M552.84 400.8V401.5" stroke="#FF0000" stroke-width="0.8" fill="none"/>
<rect x="546.94" y="395.8" width="11.8" height="5" fill="#fff" stroke="#FF0000" stroke-width="0.8"/>
<path d="M546.94 398.5H558.74" stroke="#FF0000" stroke-width="1.4"/>
<ellipse cx="552.84" cy="341.6" rx="1.45" ry="1.55" fill="#FF0000"/>
<ellipse cx="552.84" cy="346.1" rx="1.45" ry="1.55" fill="#FF0000"/>
<ellipse cx="552.84" cy="356.6" rx="1.45" ry="1.55" fill="#FF0000"/>
<ellipse cx="552.84" cy="361.6" rx="1.45" ry="1.55" fill="#FF0000"/>
<ellipse cx="552.84" cy="365.3" rx="1.45" ry="1.55" fill="#FF0000"/>
<ellipse cx="552.84" cy="366.9" rx="1.45" ry="1.55" fill="#FF0000"/>
<ellipse cx="552.84" cy="368.5" rx="1.45" ry="1.55" fill="#FF0000"/>
<ellipse cx="552.84" cy="370.1" rx="1.45" ry="1.55" fill="#FF0000"/>
<ellipse cx="552.84" cy="371.7" rx="1.45" ry="1.55" fill="#FF0000"/>
<ellipse cx="552.84" cy="373.3" rx="1.45" ry="1.55" fill="#FF0000"/>
<ellipse cx="552.84" cy="374.9" rx="1.45" ry="1.55" fill="#FF0000"/>
<ellipse cx="552.84" cy="376.5" rx="1.45" ry="1.55" fill="#FF0000"/>
<ellipse cx="552.84" cy="378.1" rx="1.45" ry="1.55" fill="#FF0000"/>
<ellipse cx="552.84" cy="379.7" rx="1.45" ry="1.55" fill="#FF0000"/>
<ellipse cx="552.84" cy="381.3" rx="1.45" ry="1.55" fill="#FF0000"/>
<ellipse cx="552.84" cy="382.9" rx="1.45" ry="1.55" fill="#FF0000"/>
<ellipse cx="552.84" cy="384.5" rx="1.45" ry="1.55" fill="#FF0000"/>
<ellipse cx="552.84" cy="386.1" rx="1.45" ry="1.55" fill="#FF0000"/>
<ellipse cx="552.84" cy="387.7" rx="1.45" ry="1.55" fill="#FF0000"/>
<path d="M566.25 371.6V387.3M566.25 399.5V401.5" stroke="#45982B" stroke-width="0.8" fill="none"/>
<rect x="560.35" y="387.3" width="11.8" height="12.2" fill="#fff" stroke="#45982B" stroke-width="0.8"/>
<path d="M560.35 394H572.15" stroke="#45982B" stroke-width="1.4"/>
<ellipse cx="566.25" cy="349.8" rx="1.45" ry="1.55" fill="#45982B"/>
<ellipse cx="566.25" cy="357.8" rx="1.45" ry="1.55" fill="#45982B"/>
<ellipse cx="566.25" cy="360.3" rx="1.45" ry="1.55" fill="#45982B"/>
<ellipse cx="566.25" cy="364.1" rx="1.45" ry="1.55" fill="#45982B"/>
<ellipse cx="566.25" cy="367.8" rx="1.45" ry="1.55" fill="#45982B"/>
<path d="M589.71 284.9V306.9M589.71 329.4V351.6" stroke="#0000FF" stroke-width="0.8" fill="none"/>
<rect x="583.81" y="306.9" width="11.8" height="22.5" fill="#fff" stroke="#0000FF" stroke-width="0.8"/>
<path d="M583.81 312.4H595.61" stroke="#0000FF" stroke-width="1.4"/>
<path d="M603.12 283.4V309.2M603.12 327.4V352.8" stroke="#FF0000" stroke-width="0.8" fill="none"/>
<rect x="597.22" y="309.2" width="11.8" height="18.2" fill="#fff" stroke="#FF0000" stroke-width="0.8"/>
<path d="M597.22 317.9H609.02" stroke="#FF0000" stroke-width="1.4"/>
<ellipse cx="603.12" cy="279.7" rx="1.45" ry="1.55" fill="#FF0000"/>
<ellipse cx="603.12" cy="361.6" rx="1.45" ry="1.55" fill="#FF0000"/>
<ellipse cx="603.12" cy="363.2" rx="1.45" ry="1.55" fill="#FF0000"/>
<ellipse cx="603.12" cy="364.8" rx="1.45" ry="1.55" fill="#FF0000"/>
<ellipse cx="603.12" cy="366.4" rx="1.45" ry="1.55" fill="#FF0000"/>
<ellipse cx="603.12" cy="368" rx="1.45" ry="1.55" fill="#FF0000"/>
<ellipse cx="603.12" cy="369.6" rx="1.45" ry="1.55" fill="#FF0000"/>
<path d="M616.53 275.5V307.4M616.53 333.4V350.8" stroke="#45982B" stroke-width="0.8" fill="none"/>
<rect x="610.63" y="307.4" width="11.8" height="26" fill="#fff" stroke="#45982B" stroke-width="0.8"/>
<path d="M610.63 318.4H622.43" stroke="#45982B" stroke-width="1.4"/>
<path d="M639.99 274.7V289.2M639.99 305.9V315.4" stroke="#0000FF" stroke-width="0.8" fill="none"/>
<rect x="634.09" y="289.2" width="11.8" height="16.7" fill="#fff" stroke="#0000FF" stroke-width="0.8"/>
<path d="M634.09 298.7H645.89" stroke="#0000FF" stroke-width="1.4"/>
<path d="M653.4 278V299.7M653.4 314.2V334.9" stroke="#FF0000" stroke-width="0.8" fill="none"/>
<rect x="647.5" y="299.7" width="11.8" height="14.5" fill="#fff" stroke="#FF0000" stroke-width="0.8"/>
<path d="M647.5 307.9H659.3" stroke="#FF0000" stroke-width="1.4"/>
<ellipse cx="653.4" cy="264.2" rx="1.45" ry="1.55" fill="#FF0000"/>
<ellipse cx="653.4" cy="265.8" rx="1.45" ry="1.55" fill="#FF0000"/>
<ellipse cx="653.4" cy="267.4" rx="1.45" ry="1.55" fill="#FF0000"/>
<ellipse cx="653.4" cy="269" rx="1.45" ry="1.55" fill="#FF0000"/>
<ellipse cx="653.4" cy="270.6" rx="1.45" ry="1.55" fill="#FF0000"/>
<ellipse cx="653.4" cy="272.2" rx="1.45" ry="1.55" fill="#FF0000"/>
<ellipse cx="653.4" cy="273.8" rx="1.45" ry="1.55" fill="#FF0000"/>
<ellipse cx="653.4" cy="275.4" rx="1.45" ry="1.55" fill="#FF0000"/>
<ellipse cx="653.4" cy="344.6" rx="1.45" ry="1.55" fill="#FF0000"/>
<path d="M666.81 273V295.4M666.81 311.4V334.1" stroke="#45982B" stroke-width="0.8" fill="none"/>
<rect x="660.91" y="295.4" width="11.8" height="16" fill="#fff" stroke="#45982B" stroke-width="0.8"/>
<path d="M660.91 303.4H672.71" stroke="#45982B" stroke-width="1.4"/>
<path d="M371.7 252.4V409.4H683.7" stroke="#5a5a5a" stroke-width="1.15" fill="none"/>
<path d="M369.5 402.6H371.7" stroke="#5a5a5a" stroke-width="1.1"/>
<text transform="translate(367.8,405.4) scale(1,1.07)" font-size="7.9" text-anchor="end" fill="#444" stroke="#444" stroke-width="0.22">0</text>
<path d="M369.5 356.16H371.7" stroke="#5a5a5a" stroke-width="1.1"/>
<text transform="translate(367.8,358.96) scale(1,1.07)" font-size="7.9" text-anchor="end" fill="#444" stroke="#444" stroke-width="0.22">2</text>
<path d="M369.5 309.72H371.7" stroke="#5a5a5a" stroke-width="1.1"/>
<text transform="translate(367.8,312.52) scale(1,1.07)" font-size="7.9" text-anchor="end" fill="#444" stroke="#444" stroke-width="0.22">4</text>
<path d="M369.5 263.28H371.7" stroke="#5a5a5a" stroke-width="1.1"/>
<text transform="translate(367.8,266.08) scale(1,1.07)" font-size="7.9" text-anchor="end" fill="#444" stroke="#444" stroke-width="0.22">6</text>
<path d="M402 409.4V411.6" stroke="#5a5a5a" stroke-width="1.1"/>
<text transform="translate(405.6,417.86) scale(1,0.95) rotate(-45)" font-size="7.83" text-anchor="end" fill="#333" stroke="#333" stroke-width="0.22">LARP1</text>
<path d="M452.28 409.4V411.6" stroke="#5a5a5a" stroke-width="1.1"/>
<text transform="translate(455.88,417.86) scale(1,0.95) rotate(-45)" font-size="7.83" text-anchor="end" fill="#333" stroke="#333" stroke-width="0.22">MAP1LC3A</text>
<path d="M502.56 409.4V411.6" stroke="#5a5a5a" stroke-width="1.1"/>
<text transform="translate(506.16,417.86) scale(1,0.95) rotate(-45)" font-size="7.83" text-anchor="end" fill="#333" stroke="#333" stroke-width="0.22">PRKAB2</text>
<path d="M552.84 409.4V411.6" stroke="#5a5a5a" stroke-width="1.1"/>
<text transform="translate(556.44,417.86) scale(1,0.95) rotate(-45)" font-size="7.83" text-anchor="end" fill="#333" stroke="#333" stroke-width="0.22">RUFY4</text>
<path d="M603.12 409.4V411.6" stroke="#5a5a5a" stroke-width="1.1"/>
<text transform="translate(606.72,417.86) scale(1,0.95) rotate(-45)" font-size="7.83" text-anchor="end" fill="#333" stroke="#333" stroke-width="0.22">TRIM21</text>
<path d="M653.4 409.4V411.6" stroke="#5a5a5a" stroke-width="1.1"/>
<text transform="translate(657,417.86) scale(1,0.95) rotate(-45)" font-size="7.83" text-anchor="end" fill="#333" stroke="#333" stroke-width="0.22">VPS35</text>
<text transform="translate(359,330.9) scale(1,1.07) rotate(-90)" font-size="7.46" text-anchor="middle" fill="#222" stroke="#222" stroke-width="0.22">mRNA expression</text>
<text transform="translate(402,259.4) scale(1,1.07)" font-size="7.62" text-anchor="middle" fill="#333" stroke="#333" stroke-width="0.22">**</text>
<text transform="translate(452.28,260.15) scale(1,1.07)" font-size="7.62" text-anchor="middle" fill="#333" stroke="#333" stroke-width="0.22">ns</text>
<text transform="translate(502.56,260.15) scale(1,1.07)" font-size="7.62" text-anchor="middle" fill="#333" stroke="#333" stroke-width="0.22">ns</text>
<text transform="translate(552.84,259.4) scale(1,1.07)" font-size="7.62" text-anchor="middle" fill="#333" stroke="#333" stroke-width="0.22">***</text>
<text transform="translate(603.12,260.15) scale(1,1.07)" font-size="7.62" text-anchor="middle" fill="#333" stroke="#333" stroke-width="0.22">ns</text>
<text transform="translate(653.4,259.4) scale(1,1.07)" font-size="7.62" text-anchor="middle" fill="#333" stroke="#333" stroke-width="0.22">***</text>
<text transform="translate(399.1,240.84) scale(1,1.07)" font-size="9.75" text-anchor="start" fill="#404040" stroke="#404040" stroke-width="0.22">Subtypes</text>
<path d="M453.8 231.47V233.59M453.8 241.41V243.53" stroke="#0000FF" stroke-width="1.0"/>
<rect x="447.98" y="233.59" width="11.64" height="7.83" fill="#fff" stroke="#0000FF" stroke-width="1.0"/>
<path d="M447.98 237.5H459.62" stroke="#0000FF" stroke-width="1.6"/>
<text transform="translate(465.8,240.5) scale(1,1.07)" font-size="8.4" text-anchor="start" fill="#222" stroke="#222" stroke-width="0.22">HER2 amplication</text>
<path d="M546.8 231.47V233.59M546.8 241.41V243.53" stroke="#FF0000" stroke-width="1.0"/>
<rect x="540.98" y="233.59" width="11.64" height="7.83" fill="#fff" stroke="#FF0000" stroke-width="1.0"/>
<path d="M540.98 237.5H552.62" stroke="#FF0000" stroke-width="1.6"/>
<text transform="translate(558.4,240.5) scale(1,1.07)" font-size="8.4" text-anchor="start" fill="#222" stroke="#222" stroke-width="0.22">LuminalA/B</text>
<path d="M614.9 231.47V233.59M614.9 241.41V243.53" stroke="#45982B" stroke-width="1.0"/>
<rect x="609.08" y="233.59" width="11.64" height="7.83" fill="#fff" stroke="#45982B" stroke-width="1.0"/>
<path d="M609.08 237.5H620.72" stroke="#45982B" stroke-width="1.6"/>
<text transform="translate(627,240.5) scale(1,1.07)" font-size="8.4" text-anchor="start" fill="#222" stroke="#222" stroke-width="0.22">TNBC</text>
<text transform="translate(-0.6,471.3) scale(1,1.07)" font-size="16.5" text-anchor="start" fill="#000" font-weight="bold">e</text>
<path d="M39.5 497.5V511.2M39.5 525.4V543.4" stroke="#0000FF" stroke-width="0.8" fill="none"/>
<rect x="35.25" y="511.2" width="8.52" height="14.2" fill="#fff" stroke="#0000FF" stroke-width="0.8"/>
<path d="M35.25 518.4H43.76" stroke="#0000FF" stroke-width="1.4"/>
<ellipse cx="39.5" cy="556.1" rx="1.45" ry="1.55" fill="#0000FF"/>
<path d="M48.97 495V510.5M48.97 523.4V539.2" stroke="#FF0000" stroke-width="0.8" fill="none"/>
<rect x="44.71" y="510.5" width="8.52" height="12.9" fill="#fff" stroke="#FF0000" stroke-width="0.8"/>
<path d="M44.71 516.7H53.23" stroke="#FF0000" stroke-width="1.4"/>
<ellipse cx="48.97" cy="490" rx="1.45" ry="1.55" fill="#FF0000"/>
<ellipse cx="48.97" cy="542.4" rx="1.45" ry="1.55" fill="#FF0000"/>
<path d="M58.43 495V510M58.43 523.4V537.2" stroke="#45982B" stroke-width="0.8" fill="none"/>
<rect x="54.17" y="510" width="8.52" height="13.4" fill="#fff" stroke="#45982B" stroke-width="0.8"/>
<path d="M54.17 517.2H62.69" stroke="#45982B" stroke-width="1.4"/>
<ellipse cx="58.43" cy="543.7" rx="1.45" ry="1.55" fill="#45982B"/>
<ellipse cx="58.43" cy="555.9" rx="1.45" ry="1.55" fill="#45982B"/>
<path d="M67.9 508V512.4M67.9 521.7V526.2" stroke="#FF8000" stroke-width="0.8" fill="none"/>
<rect x="63.64" y="512.4" width="8.52" height="9.3" fill="#fff" stroke="#FF8000" stroke-width="0.8"/>
<path d="M63.64 518H72.15" stroke="#FF8000" stroke-width="1.4"/>
<path d="M86.82 510.5V541.7M86.82 565.4V593.3" stroke="#0000FF" stroke-width="0.8" fill="none"/>
<rect x="82.57" y="541.7" width="8.52" height="23.7" fill="#fff" stroke="#0000FF" stroke-width="0.8"/>
<path d="M82.57 552.9H91.08" stroke="#0000FF" stroke-width="1.4"/>
<ellipse cx="86.82" cy="500" rx="1.45" ry="1.55" fill="#0000FF"/>
<ellipse cx="86.82" cy="600.3" rx="1.45" ry="1.55" fill="#0000FF"/>
<ellipse cx="86.82" cy="603.6" rx="1.45" ry="1.55" fill="#0000FF"/>
<path d="M96.29 509.2V542.9M96.29 568.4V606.6" stroke="#FF0000" stroke-width="0.8" fill="none"/>
<rect x="92.03" y="542.9" width="8.52" height="25.5" fill="#fff" stroke="#FF0000" stroke-width="0.8"/>
<path d="M92.03 555.9H100.55" stroke="#FF0000" stroke-width="1.4"/>
<ellipse cx="96.29" cy="501.7" rx="1.45" ry="1.55" fill="#FF0000"/>
<ellipse cx="96.29" cy="504.2" rx="1.45" ry="1.55" fill="#FF0000"/>
<ellipse cx="96.29" cy="609.8" rx="1.45" ry="1.55" fill="#FF0000"/>
<path d="M105.75 514.2V541.2M105.75 566.6V601.6" stroke="#45982B" stroke-width="0.8" fill="none"/>
<rect x="101.49" y="541.2" width="8.52" height="25.4" fill="#fff" stroke="#45982B" stroke-width="0.8"/>
<path d="M101.49 553.6H110.01" stroke="#45982B" stroke-width="1.4"/>
<path d="M115.22 520.9V545.9M115.22 564.6V580.3" stroke="#FF8000" stroke-width="0.8" fill="none"/>
<rect x="110.96" y="545.9" width="8.52" height="18.7" fill="#fff" stroke="#FF8000" stroke-width="0.8"/>
<path d="M110.96 557.4H119.47" stroke="#FF8000" stroke-width="1.4"/>
<ellipse cx="115.22" cy="597.3" rx="1.45" ry="1.55" fill="#FF8000"/>
<path d="M134.14 537.9V562.4M134.14 578.6V594.8" stroke="#0000FF" stroke-width="0.8" fill="none"/>
<rect x="129.89" y="562.4" width="8.52" height="16.2" fill="#fff" stroke="#0000FF" stroke-width="0.8"/>
<path d="M129.89 571.1H138.4" stroke="#0000FF" stroke-width="1.4"/>
<path d="M143.61 540.4V561.6M143.61 577.4V597.8" stroke="#FF0000" stroke-width="0.8" fill="none"/>
<rect x="139.35" y="561.6" width="8.52" height="15.8" fill="#fff" stroke="#FF0000" stroke-width="0.8"/>
<path d="M139.35 568.4H147.87" stroke="#FF0000" stroke-width="1.4"/>
<ellipse cx="143.61" cy="514.2" rx="1.45" ry="1.55" fill="#FF0000"/>
<ellipse cx="143.61" cy="530.4" rx="1.45" ry="1.55" fill="#FF0000"/>
<ellipse cx="143.61" cy="536.7" rx="1.45" ry="1.55" fill="#FF0000"/>
<ellipse cx="143.61" cy="602.1" rx="1.45" ry="1.55" fill="#FF0000"/>
<ellipse cx="143.61" cy="613.5" rx="1.45" ry="1.55" fill="#FF0000"/>
<path d="M153.07 542.4V560.4M153.07 577.9V600.3" stroke="#45982B" stroke-width="0.8" fill="none"/>
<rect x="148.81" y="560.4" width="8.52" height="17.5" fill="#fff" stroke="#45982B" stroke-width="0.8"/>
<path d="M148.81 569.1H157.33" stroke="#45982B" stroke-width="1.4"/>
<path d="M162.54 555.9V563.4M162.54 578.3V585.3" stroke="#FF8000" stroke-width="0.8" fill="none"/>
<rect x="158.28" y="563.4" width="8.52" height="14.9" fill="#fff" stroke="#FF8000" stroke-width="0.8"/>
<path d="M158.28 572.4H166.79" stroke="#FF8000" stroke-width="1.4"/>
<path d="M181.46 614V619M181.46 622.8V624" stroke="#0000FF" stroke-width="0.8" fill="none"/>
<rect x="177.21" y="619" width="8.52" height="3.8" fill="#fff" stroke="#0000FF" stroke-width="0.8"/>
<path d="M177.21 621.5H185.72" stroke="#0000FF" stroke-width="1.4"/>
<ellipse cx="181.46" cy="572.4" rx="1.45" ry="1.55" fill="#0000FF"/>
<ellipse cx="181.46" cy="585.3" rx="1.45" ry="1.55" fill="#0000FF"/>
<ellipse cx="181.46" cy="592.8" rx="1.45" ry="1.55" fill="#0000FF"/>
<ellipse cx="181.46" cy="597.3" rx="1.45" ry="1.55" fill="#0000FF"/>
<ellipse cx="181.46" cy="601.6" rx="1.45" ry="1.55" fill="#0000FF"/>
<ellipse cx="181.46" cy="603.2" rx="1.45" ry="1.55" fill="#0000FF"/>
<ellipse cx="181.46" cy="604.8" rx="1.45" ry="1.55" fill="#0000FF"/>
<ellipse cx="181.46" cy="606.4" rx="1.45" ry="1.55" fill="#0000FF"/>
<ellipse cx="181.46" cy="608" rx="1.45" ry="1.55" fill="#0000FF"/>
<ellipse cx="181.46" cy="609.6" rx="1.45" ry="1.55" fill="#0000FF"/>
<ellipse cx="181.46" cy="611.2" rx="1.45" ry="1.55" fill="#0000FF"/>
<ellipse cx="181.46" cy="612.8" rx="1.45" ry="1.55" fill="#0000FF"/>
<path d="M190.93 607.8V616M190.93 622.8V624" stroke="#FF0000" stroke-width="0.8" fill="none"/>
<rect x="186.67" y="616" width="8.52" height="6.8" fill="#fff" stroke="#FF0000" stroke-width="0.8"/>
<path d="M186.67 620.8H195.19" stroke="#FF0000" stroke-width="1.4"/>
<ellipse cx="190.93" cy="567.9" rx="1.45" ry="1.55" fill="#FF0000"/>
<ellipse cx="190.93" cy="575.9" rx="1.45" ry="1.55" fill="#FF0000"/>
<ellipse cx="190.93" cy="580.3" rx="1.45" ry="1.55" fill="#FF0000"/>
<ellipse cx="190.93" cy="581.9" rx="1.45" ry="1.55" fill="#FF0000"/>
<ellipse cx="190.93" cy="583.5" rx="1.45" ry="1.55" fill="#FF0000"/>
<ellipse cx="190.93" cy="585.1" rx="1.45" ry="1.55" fill="#FF0000"/>
<ellipse cx="190.93" cy="586.7" rx="1.45" ry="1.55" fill="#FF0000"/>
<ellipse cx="190.93" cy="588.3" rx="1.45" ry="1.55" fill="#FF0000"/>
<ellipse cx="190.93" cy="589.9" rx="1.45" ry="1.55" fill="#FF0000"/>
<ellipse cx="190.93" cy="591.5" rx="1.45" ry="1.55" fill="#FF0000"/>
<ellipse cx="190.93" cy="593.1" rx="1.45" ry="1.55" fill="#FF0000"/>
<ellipse cx="190.93" cy="594.7" rx="1.45" ry="1.55" fill="#FF0000"/>
<ellipse cx="190.93" cy="596.3" rx="1.45" ry="1.55" fill="#FF0000"/>
<ellipse cx="190.93" cy="597.9" rx="1.45" ry="1.55" fill="#FF0000"/>
<ellipse cx="190.93" cy="599.5" rx="1.45" ry="1.55" fill="#FF0000"/>
<ellipse cx="190.93" cy="601.1" rx="1.45" ry="1.55" fill="#FF0000"/>
<ellipse cx="190.93" cy="602.7" rx="1.45" ry="1.55" fill="#FF0000"/>
<ellipse cx="190.93" cy="604.3" rx="1.45" ry="1.55" fill="#FF0000"/>
<path d="M200.39 609.8V617.8M200.39 623.3V624" stroke="#45982B" stroke-width="0.8" fill="none"/>
<rect x="196.13" y="617.8" width="8.52" height="5.5" fill="#fff" stroke="#45982B" stroke-width="0.8"/>
<path d="M196.13 621.5H204.65" stroke="#45982B" stroke-width="1.4"/>
<ellipse cx="200.39" cy="581.6" rx="1.45" ry="1.55" fill="#45982B"/>
<ellipse cx="200.39" cy="592.8" rx="1.45" ry="1.55" fill="#45982B"/>
<ellipse cx="200.39" cy="604.6" rx="1.45" ry="1.55" fill="#45982B"/>
<path d="M209.86 619.8V620.8M209.86 623.3V624" stroke="#FF8000" stroke-width="0.8" fill="none"/>
<rect x="205.6" y="620.8" width="8.52" height="2.5" fill="#fff" stroke="#FF8000" stroke-width="0.8"/>
<path d="M205.6 622H214.11" stroke="#FF8000" stroke-width="1.4"/>
<ellipse cx="209.86" cy="607.8" rx="1.45" ry="1.55" fill="#FF8000"/>
<ellipse cx="209.86" cy="616.5" rx="1.45" ry="1.55" fill="#FF8000"/>
<path d="M228.78 516.7V538.7M228.78 555.4V576.6" stroke="#0000FF" stroke-width="0.8" fill="none"/>
<rect x="224.53" y="538.7" width="8.52" height="16.7" fill="#fff" stroke="#0000FF" stroke-width="0.8"/>
<path d="M224.53 546.6H233.04" stroke="#0000FF" stroke-width="1.4"/>
<ellipse cx="228.78" cy="587.1" rx="1.45" ry="1.55" fill="#0000FF"/>
<ellipse cx="228.78" cy="593.6" rx="1.45" ry="1.55" fill="#0000FF"/>
<path d="M238.25 510.5V536.7M238.25 554.1V579.1" stroke="#FF0000" stroke-width="0.8" fill="none"/>
<rect x="233.99" y="536.7" width="8.52" height="17.4" fill="#fff" stroke="#FF0000" stroke-width="0.8"/>
<path d="M233.99 544.9H242.51" stroke="#FF0000" stroke-width="1.4"/>
<ellipse cx="238.25" cy="505" rx="1.45" ry="1.55" fill="#FF0000"/>
<path d="M247.71 516.7V536.7M247.71 556.6V575.4" stroke="#45982B" stroke-width="0.8" fill="none"/>
<rect x="243.45" y="536.7" width="8.52" height="19.9" fill="#fff" stroke="#45982B" stroke-width="0.8"/>
<path d="M243.45 547.4H251.97" stroke="#45982B" stroke-width="1.4"/>
<ellipse cx="247.71" cy="589.1" rx="1.45" ry="1.55" fill="#45982B"/>
<ellipse cx="247.71" cy="590.8" rx="1.45" ry="1.55" fill="#45982B"/>
<path d="M257.18 535.9V539.2M257.18 560.4V567.4" stroke="#FF8000" stroke-width="0.8" fill="none"/>
<rect x="252.92" y="539.2" width="8.52" height="21.2" fill="#fff" stroke="#FF8000" stroke-width="0.8"/>
<path d="M252.92 545.4H261.43" stroke="#FF8000" stroke-width="1.4"/>
<path d="M276.1 507.5V526.7M276.1 541.7V561.6" stroke="#0000FF" stroke-width="0.8" fill="none"/>
<rect x="271.85" y="526.7" width="8.52" height="15" fill="#fff" stroke="#0000FF" stroke-width="0.8"/>
<path d="M271.85 534.2H280.36" stroke="#0000FF" stroke-width="1.4"/>
<ellipse cx="276.1" cy="496.7" rx="1.45" ry="1.55" fill="#0000FF"/>
<ellipse cx="276.1" cy="498.5" rx="1.45" ry="1.55" fill="#0000FF"/>
<ellipse cx="276.1" cy="503" rx="1.45" ry="1.55" fill="#0000FF"/>
<path d="M285.57 502.2V524.9M285.57 540.4V560.4" stroke="#FF0000" stroke-width="0.8" fill="none"/>
<rect x="281.31" y="524.9" width="8.52" height="15.5" fill="#fff" stroke="#FF0000" stroke-width="0.8"/>
<path d="M281.31 532.9H289.83" stroke="#FF0000" stroke-width="1.4"/>
<ellipse cx="285.57" cy="495" rx="1.45" ry="1.55" fill="#FF0000"/>
<ellipse cx="285.57" cy="570.9" rx="1.45" ry="1.55" fill="#FF0000"/>
<path d="M295.03 516.7V529.7M295.03 542.4V555.4" stroke="#45982B" stroke-width="0.8" fill="none"/>
<rect x="290.77" y="529.7" width="8.52" height="12.7" fill="#fff" stroke="#45982B" stroke-width="0.8"/>
<path d="M290.77 538.4H299.29" stroke="#45982B" stroke-width="1.4"/>
<ellipse cx="295.03" cy="509.5" rx="1.45" ry="1.55" fill="#45982B"/>
<ellipse cx="295.03" cy="560.4" rx="1.45" ry="1.55" fill="#45982B"/>
<path d="M304.5 517.9V530.4M304.5 541.7V552.9" stroke="#FF8000" stroke-width="0.8" fill="none"/>
<rect x="300.24" y="530.4" width="8.52" height="11.3" fill="#fff" stroke="#FF8000" stroke-width="0.8"/>
<path d="M300.24 535.4H308.75" stroke="#FF8000" stroke-width="1.4"/>
<ellipse cx="304.5" cy="513.4" rx="1.45" ry="1.55" fill="#FF8000"/>
<path d="M25.5 483.3V631.4H318.8" stroke="#5a5a5a" stroke-width="1.15" fill="none"/>
<path d="M23.3 625.4H25.5" stroke="#5a5a5a" stroke-width="1.1"/>
<text transform="translate(21.6,628.2) scale(1,1.07)" font-size="7.9" text-anchor="end" fill="#444" stroke="#444" stroke-width="0.22">0</text>
<path d="M23.3 581.6H25.5" stroke="#5a5a5a" stroke-width="1.1"/>
<text transform="translate(21.6,584.4) scale(1,1.07)" font-size="7.9" text-anchor="end" fill="#444" stroke="#444" stroke-width="0.22">2</text>
<path d="M23.3 537.8H25.5" stroke="#5a5a5a" stroke-width="1.1"/>
<text transform="translate(21.6,540.6) scale(1,1.07)" font-size="7.9" text-anchor="end" fill="#444" stroke="#444" stroke-width="0.22">4</text>
<path d="M23.3 494H25.5" stroke="#5a5a5a" stroke-width="1.1"/>
<text transform="translate(21.6,496.8) scale(1,1.07)" font-size="7.9" text-anchor="end" fill="#444" stroke="#444" stroke-width="0.22">6</text>
<path d="M53.7 631.4V633.6" stroke="#5a5a5a" stroke-width="1.1"/>
<text transform="translate(57.1,639.4) scale(1,0.95) rotate(-45)" font-size="7.4" text-anchor="end" fill="#333" stroke="#333" stroke-width="0.22">LARP1</text>
<path d="M101.02 631.4V633.6" stroke="#5a5a5a" stroke-width="1.1"/>
<text transform="translate(104.42,639.4) scale(1,0.95) rotate(-45)" font-size="7.4" text-anchor="end" fill="#333" stroke="#333" stroke-width="0.22">MAP1LC3A</text>
<path d="M148.34 631.4V633.6" stroke="#5a5a5a" stroke-width="1.1"/>
<text transform="translate(151.74,639.4) scale(1,0.95) rotate(-45)" font-size="7.4" text-anchor="end" fill="#333" stroke="#333" stroke-width="0.22">PRKAB2</text>
<path d="M195.66 631.4V633.6" stroke="#5a5a5a" stroke-width="1.1"/>
<text transform="translate(199.06,639.4) scale(1,0.95) rotate(-45)" font-size="7.4" text-anchor="end" fill="#333" stroke="#333" stroke-width="0.22">RUFY4</text>
<path d="M242.98 631.4V633.6" stroke="#5a5a5a" stroke-width="1.1"/>
<text transform="translate(246.38,639.4) scale(1,0.95) rotate(-45)" font-size="7.4" text-anchor="end" fill="#333" stroke="#333" stroke-width="0.22">TRIM21</text>
<path d="M290.3 631.4V633.6" stroke="#5a5a5a" stroke-width="1.1"/>
<text transform="translate(293.7,639.4) scale(1,0.95) rotate(-45)" font-size="7.4" text-anchor="end" fill="#333" stroke="#333" stroke-width="0.22">VPS35</text>
<text transform="translate(13.6,557.35) scale(1,1.07) rotate(-90)" font-size="7.05" text-anchor="middle" fill="#222" stroke="#222" stroke-width="0.22">mRNA expression</text>
<text transform="translate(53.7,491.05) scale(1,1.07)" font-size="7.2" text-anchor="middle" fill="#333" stroke="#333" stroke-width="0.22">ns</text>
<text transform="translate(101.02,491.05) scale(1,1.07)" font-size="7.2" text-anchor="middle" fill="#333" stroke="#333" stroke-width="0.22">ns</text>
<text transform="translate(148.34,491.05) scale(1,1.07)" font-size="7.2" text-anchor="middle" fill="#333" stroke="#333" stroke-width="0.22">ns</text>
<text transform="translate(195.66,491.05) scale(1,1.07)" font-size="7.2" text-anchor="middle" fill="#333" stroke="#333" stroke-width="0.22">ns</text>
<text transform="translate(242.98,491.05) scale(1,1.07)" font-size="7.2" text-anchor="middle" fill="#333" stroke="#333" stroke-width="0.22">ns</text>
<text transform="translate(290.3,491.05) scale(1,1.07)" font-size="7.2" text-anchor="middle" fill="#333" stroke="#333" stroke-width="0.22">ns</text>
<text transform="translate(73.9,467.88) scale(1,1.07)" font-size="9.85" text-anchor="start" fill="#404040" stroke="#404040" stroke-width="0.22">Tumor size</text>
<path d="M137.9 458.8V460.8M137.9 468.2V470.2" stroke="#0000FF" stroke-width="1.0"/>
<rect x="132.4" y="460.8" width="11" height="7.4" fill="#fff" stroke="#0000FF" stroke-width="1.0"/>
<path d="M132.4 464.5H143.4" stroke="#0000FF" stroke-width="1.6"/>
<text transform="translate(149.4,467.5) scale(1,1.07)" font-size="8.4" text-anchor="start" fill="#222" stroke="#222" stroke-width="0.22">T1</text>
<path d="M170.9 458.8V460.8M170.9 468.2V470.2" stroke="#FF0000" stroke-width="1.0"/>
<rect x="165.4" y="460.8" width="11" height="7.4" fill="#fff" stroke="#FF0000" stroke-width="1.0"/>
<path d="M165.4 464.5H176.4" stroke="#FF0000" stroke-width="1.6"/>
<text transform="translate(182.3,467.5) scale(1,1.07)" font-size="8.4" text-anchor="start" fill="#222" stroke="#222" stroke-width="0.22">T2</text>
<path d="M204.3 458.8V460.8M204.3 468.2V470.2" stroke="#45982B" stroke-width="1.0"/>
<rect x="198.8" y="460.8" width="11" height="7.4" fill="#fff" stroke="#45982B" stroke-width="1.0"/>
<path d="M198.8 464.5H209.8" stroke="#45982B" stroke-width="1.6"/>
<text transform="translate(215.8,467.5) scale(1,1.07)" font-size="8.4" text-anchor="start" fill="#222" stroke="#222" stroke-width="0.22">T3</text>
<path d="M237.9 458.8V460.8M237.9 468.2V470.2" stroke="#FF8000" stroke-width="1.0"/>
<rect x="232.4" y="460.8" width="11" height="7.4" fill="#fff" stroke="#FF8000" stroke-width="1.0"/>
<path d="M232.4 464.5H243.4" stroke="#FF8000" stroke-width="1.6"/>
<text transform="translate(249.7,467.5) scale(1,1.07)" font-size="8.4" text-anchor="start" fill="#222" stroke="#222" stroke-width="0.22">T4</text>
<text transform="translate(345.2,471.3) scale(1,1.07)" font-size="16.5" text-anchor="start" fill="#000" font-weight="bold">f</text>
<path d="M388.29 491.5V509.4M388.29 522.2V538.4" stroke="#0000FF" stroke-width="0.8" fill="none"/>
<rect x="383.79" y="509.4" width="9" height="12.8" fill="#fff" stroke="#0000FF" stroke-width="0.8"/>
<path d="M383.79 514.7H392.8" stroke="#0000FF" stroke-width="1.4"/>
<ellipse cx="388.29" cy="486" rx="1.45" ry="1.55" fill="#0000FF"/>
<ellipse cx="388.29" cy="542.1" rx="1.45" ry="1.55" fill="#0000FF"/>
<path d="M398.3 494V507.2M398.3 520.9V538.9" stroke="#FF0000" stroke-width="0.8" fill="none"/>
<rect x="393.8" y="507.2" width="9" height="13.7" fill="#fff" stroke="#FF0000" stroke-width="0.8"/>
<path d="M393.8 512.7H402.8" stroke="#FF0000" stroke-width="1.4"/>
<ellipse cx="398.3" cy="486" rx="1.45" ry="1.55" fill="#FF0000"/>
<ellipse cx="398.3" cy="555.1" rx="1.45" ry="1.55" fill="#FF0000"/>
<path d="M408.3 491V507M408.3 520.2V537.7" stroke="#45982B" stroke-width="0.8" fill="none"/>
<rect x="403.8" y="507" width="9" height="13.2" fill="#fff" stroke="#45982B" stroke-width="0.8"/>
<path d="M403.8 513.9H412.8" stroke="#45982B" stroke-width="1.4"/>
<ellipse cx="408.3" cy="540.9" rx="1.45" ry="1.55" fill="#45982B"/>
<ellipse cx="408.3" cy="555.1" rx="1.45" ry="1.55" fill="#45982B"/>
<path d="M418.31 497.7V510.7M418.31 520.4V528.4" stroke="#FF8000" stroke-width="0.8" fill="none"/>
<rect x="413.8" y="510.7" width="9" height="9.7" fill="#fff" stroke="#FF8000" stroke-width="0.8"/>
<path d="M413.8 517.2H422.81" stroke="#FF8000" stroke-width="1.4"/>
<ellipse cx="418.31" cy="492.7" rx="1.45" ry="1.55" fill="#FF8000"/>
<path d="M438.31 506V540.7M438.31 566.4V605" stroke="#0000FF" stroke-width="0.8" fill="none"/>
<rect x="433.81" y="540.7" width="9" height="25.7" fill="#fff" stroke="#0000FF" stroke-width="0.8"/>
<path d="M433.81 553.4H442.82" stroke="#0000FF" stroke-width="1.4"/>
<ellipse cx="438.31" cy="496.5" rx="1.45" ry="1.55" fill="#0000FF"/>
<ellipse cx="438.31" cy="498.5" rx="1.45" ry="1.55" fill="#0000FF"/>
<ellipse cx="438.31" cy="607.5" rx="1.45" ry="1.55" fill="#0000FF"/>
<ellipse cx="438.31" cy="609" rx="1.45" ry="1.55" fill="#0000FF"/>
<ellipse cx="438.31" cy="612" rx="1.45" ry="1.55" fill="#0000FF"/>
<path d="M448.32 512V540.7M448.32 567.1V602.1" stroke="#FF0000" stroke-width="0.8" fill="none"/>
<rect x="443.82" y="540.7" width="9" height="26.4" fill="#fff" stroke="#FF0000" stroke-width="0.8"/>
<path d="M443.82 554.6H452.82" stroke="#FF0000" stroke-width="1.4"/>
<path d="M458.32 501V540.2M458.32 567.6V605.8" stroke="#45982B" stroke-width="0.8" fill="none"/>
<rect x="453.82" y="540.2" width="9" height="27.4" fill="#fff" stroke="#45982B" stroke-width="0.8"/>
<path d="M453.82 554.4H462.82" stroke="#45982B" stroke-width="1.4"/>
<path d="M468.33 522.2V544.4M468.33 564.4V590.8" stroke="#FF8000" stroke-width="0.8" fill="none"/>
<rect x="463.82" y="544.4" width="9" height="20" fill="#fff" stroke="#FF8000" stroke-width="0.8"/>
<path d="M463.82 553.4H472.83" stroke="#FF8000" stroke-width="1.4"/>
<ellipse cx="468.33" cy="510.9" rx="1.45" ry="1.55" fill="#FF8000"/>
<ellipse cx="468.33" cy="512.7" rx="1.45" ry="1.55" fill="#FF8000"/>
<path d="M488.33 535.2V559.4M488.33 578.8V599.6" stroke="#0000FF" stroke-width="0.8" fill="none"/>
<rect x="483.83" y="559.4" width="9" height="19.4" fill="#fff" stroke="#0000FF" stroke-width="0.8"/>
<path d="M483.83 568.9H492.84" stroke="#0000FF" stroke-width="1.4"/>
<ellipse cx="488.33" cy="511.4" rx="1.45" ry="1.55" fill="#0000FF"/>
<ellipse cx="488.33" cy="616.3" rx="1.45" ry="1.55" fill="#0000FF"/>
<path d="M498.34 541.4V563.1M498.34 576.8V597.6" stroke="#FF0000" stroke-width="0.8" fill="none"/>
<rect x="493.84" y="563.1" width="9" height="13.7" fill="#fff" stroke="#FF0000" stroke-width="0.8"/>
<path d="M493.84 570.1H502.84" stroke="#FF0000" stroke-width="1.4"/>
<ellipse cx="498.34" cy="538" rx="1.45" ry="1.55" fill="#FF0000"/>
<ellipse cx="498.34" cy="599.3" rx="1.45" ry="1.55" fill="#FF0000"/>
<ellipse cx="498.34" cy="600.9" rx="1.45" ry="1.55" fill="#FF0000"/>
<ellipse cx="498.34" cy="602.5" rx="1.45" ry="1.55" fill="#FF0000"/>
<path d="M508.34 541.9V560.6M508.34 574.3V590.1" stroke="#45982B" stroke-width="0.8" fill="none"/>
<rect x="503.84" y="560.6" width="9" height="13.7" fill="#fff" stroke="#45982B" stroke-width="0.8"/>
<path d="M503.84 565.9H512.84" stroke="#45982B" stroke-width="1.4"/>
<ellipse cx="508.34" cy="528.4" rx="1.45" ry="1.55" fill="#45982B"/>
<ellipse cx="508.34" cy="536.4" rx="1.45" ry="1.55" fill="#45982B"/>
<ellipse cx="508.34" cy="604.3" rx="1.45" ry="1.55" fill="#45982B"/>
<path d="M518.35 551.4V563.1M518.35 579.6V593.8" stroke="#FF8000" stroke-width="0.8" fill="none"/>
<rect x="513.84" y="563.1" width="9" height="16.5" fill="#fff" stroke="#FF8000" stroke-width="0.8"/>
<path d="M513.84 571.4H522.85" stroke="#FF8000" stroke-width="1.4"/>
<path d="M538.35 608.8V619.3M538.35 626.3V627.5" stroke="#0000FF" stroke-width="0.8" fill="none"/>
<rect x="533.85" y="619.3" width="9" height="7" fill="#fff" stroke="#0000FF" stroke-width="0.8"/>
<path d="M533.85 623.8H542.86" stroke="#0000FF" stroke-width="1.4"/>
<ellipse cx="538.35" cy="575.8" rx="1.45" ry="1.55" fill="#0000FF"/>
<ellipse cx="538.35" cy="581.3" rx="1.45" ry="1.55" fill="#0000FF"/>
<ellipse cx="538.35" cy="582.9" rx="1.45" ry="1.55" fill="#0000FF"/>
<ellipse cx="538.35" cy="584.5" rx="1.45" ry="1.55" fill="#0000FF"/>
<ellipse cx="538.35" cy="586.1" rx="1.45" ry="1.55" fill="#0000FF"/>
<ellipse cx="538.35" cy="587.7" rx="1.45" ry="1.55" fill="#0000FF"/>
<ellipse cx="538.35" cy="589.3" rx="1.45" ry="1.55" fill="#0000FF"/>
<ellipse cx="538.35" cy="590.9" rx="1.45" ry="1.55" fill="#0000FF"/>
<ellipse cx="538.35" cy="592.5" rx="1.45" ry="1.55" fill="#0000FF"/>
<ellipse cx="538.35" cy="594.1" rx="1.45" ry="1.55" fill="#0000FF"/>
<ellipse cx="538.35" cy="595.7" rx="1.45" ry="1.55" fill="#0000FF"/>
<ellipse cx="538.35" cy="597.3" rx="1.45" ry="1.55" fill="#0000FF"/>
<ellipse cx="538.35" cy="598.9" rx="1.45" ry="1.55" fill="#0000FF"/>
<ellipse cx="538.35" cy="600.5" rx="1.45" ry="1.55" fill="#0000FF"/>
<ellipse cx="538.35" cy="602.1" rx="1.45" ry="1.55" fill="#0000FF"/>
<ellipse cx="538.35" cy="603.7" rx="1.45" ry="1.55" fill="#0000FF"/>
<ellipse cx="538.35" cy="605.3" rx="1.45" ry="1.55" fill="#0000FF"/>
<ellipse cx="538.35" cy="606.9" rx="1.45" ry="1.55" fill="#0000FF"/>
<path d="M548.36 611.3V620M548.36 626.8V627.5" stroke="#FF0000" stroke-width="0.8" fill="none"/>
<rect x="543.86" y="620" width="9" height="6.8" fill="#fff" stroke="#FF0000" stroke-width="0.8"/>
<path d="M543.86 623.8H552.86" stroke="#FF0000" stroke-width="1.4"/>
<ellipse cx="548.36" cy="568.1" rx="1.45" ry="1.55" fill="#FF0000"/>
<ellipse cx="548.36" cy="572.6" rx="1.45" ry="1.55" fill="#FF0000"/>
<ellipse cx="548.36" cy="587.1" rx="1.45" ry="1.55" fill="#FF0000"/>
<ellipse cx="548.36" cy="593.3" rx="1.45" ry="1.55" fill="#FF0000"/>
<ellipse cx="548.36" cy="598.3" rx="1.45" ry="1.55" fill="#FF0000"/>
<ellipse cx="548.36" cy="603.3" rx="1.45" ry="1.55" fill="#FF0000"/>
<ellipse cx="548.36" cy="606.3" rx="1.45" ry="1.55" fill="#FF0000"/>
<path d="M558.36 615V621.3M558.36 626.8V627.5" stroke="#45982B" stroke-width="0.8" fill="none"/>
<rect x="553.86" y="621.3" width="9" height="5.5" fill="#fff" stroke="#45982B" stroke-width="0.8"/>
<path d="M553.86 625H562.86" stroke="#45982B" stroke-width="1.4"/>
<ellipse cx="558.36" cy="582.1" rx="1.45" ry="1.55" fill="#45982B"/>
<ellipse cx="558.36" cy="594.3" rx="1.45" ry="1.55" fill="#45982B"/>
<ellipse cx="558.36" cy="603.3" rx="1.45" ry="1.55" fill="#45982B"/>
<ellipse cx="558.36" cy="613" rx="1.45" ry="1.55" fill="#45982B"/>
<path d="M568.37 615V620.5M568.37 626.3V627.5" stroke="#FF8000" stroke-width="0.8" fill="none"/>
<rect x="563.86" y="620.5" width="9" height="5.8" fill="#fff" stroke="#FF8000" stroke-width="0.8"/>
<path d="M563.86 623.8H572.87" stroke="#FF8000" stroke-width="1.4"/>
<ellipse cx="568.37" cy="595.6" rx="1.45" ry="1.55" fill="#FF8000"/>
<ellipse cx="568.37" cy="605" rx="1.45" ry="1.55" fill="#FF8000"/>
<ellipse cx="568.37" cy="610" rx="1.45" ry="1.55" fill="#FF8000"/>
<path d="M588.37 506.5V533.2M588.37 553.9V578.8" stroke="#0000FF" stroke-width="0.8" fill="none"/>
<rect x="583.87" y="533.2" width="9" height="20.7" fill="#fff" stroke="#0000FF" stroke-width="0.8"/>
<path d="M583.87 543.9H592.88" stroke="#0000FF" stroke-width="1.4"/>
<ellipse cx="588.37" cy="501.5" rx="1.45" ry="1.55" fill="#0000FF"/>
<ellipse cx="588.37" cy="588.1" rx="1.45" ry="1.55" fill="#0000FF"/>
<ellipse cx="588.37" cy="591.8" rx="1.45" ry="1.55" fill="#0000FF"/>
<path d="M598.38 509.4V536.9M598.38 554.4V575.8" stroke="#FF0000" stroke-width="0.8" fill="none"/>
<rect x="593.88" y="536.9" width="9" height="17.5" fill="#fff" stroke="#FF0000" stroke-width="0.8"/>
<path d="M593.88 544.6H602.88" stroke="#FF0000" stroke-width="1.4"/>
<ellipse cx="598.38" cy="595.3" rx="1.45" ry="1.55" fill="#FF0000"/>
<path d="M608.38 510.9V533.4M608.38 559.6V589.3" stroke="#45982B" stroke-width="0.8" fill="none"/>
<rect x="603.88" y="533.4" width="9" height="26.2" fill="#fff" stroke="#45982B" stroke-width="0.8"/>
<path d="M603.88 545.6H612.88" stroke="#45982B" stroke-width="1.4"/>
<path d="M618.39 517.7V535.2M618.39 554.4V574.6" stroke="#FF8000" stroke-width="0.8" fill="none"/>
<rect x="613.88" y="535.2" width="9" height="19.2" fill="#fff" stroke="#FF8000" stroke-width="0.8"/>
<path d="M613.88 542.6H622.89" stroke="#FF8000" stroke-width="1.4"/>
<path d="M638.39 506V525.2M638.39 540.7V561.4" stroke="#0000FF" stroke-width="0.8" fill="none"/>
<rect x="633.89" y="525.2" width="9" height="15.5" fill="#fff" stroke="#0000FF" stroke-width="0.8"/>
<path d="M633.89 534.4H642.9" stroke="#0000FF" stroke-width="1.4"/>
<ellipse cx="638.39" cy="492.7" rx="1.45" ry="1.55" fill="#0000FF"/>
<ellipse cx="638.39" cy="495.2" rx="1.45" ry="1.55" fill="#0000FF"/>
<ellipse cx="638.39" cy="499" rx="1.45" ry="1.55" fill="#0000FF"/>
<ellipse cx="638.39" cy="501.5" rx="1.45" ry="1.55" fill="#0000FF"/>
<path d="M648.4 498.2V522.2M648.4 539.4V560.6" stroke="#FF0000" stroke-width="0.8" fill="none"/>
<rect x="643.9" y="522.2" width="9" height="17.2" fill="#fff" stroke="#FF0000" stroke-width="0.8"/>
<path d="M643.9 531.4H652.9" stroke="#FF0000" stroke-width="1.4"/>
<ellipse cx="648.4" cy="491" rx="1.45" ry="1.55" fill="#FF0000"/>
<path d="M658.4 499.5V520.9M658.4 535.9V553.9" stroke="#45982B" stroke-width="0.8" fill="none"/>
<rect x="653.9" y="520.9" width="9" height="15" fill="#fff" stroke="#45982B" stroke-width="0.8"/>
<path d="M653.9 527.7H662.9" stroke="#45982B" stroke-width="1.4"/>
<ellipse cx="658.4" cy="570.9" rx="1.45" ry="1.55" fill="#45982B"/>
<path d="M668.41 514.4V526.4M668.41 538.4V553.4" stroke="#FF8000" stroke-width="0.8" fill="none"/>
<rect x="663.9" y="526.4" width="9" height="12" fill="#fff" stroke="#FF8000" stroke-width="0.8"/>
<path d="M663.9 530.9H672.91" stroke="#FF8000" stroke-width="1.4"/>
<path d="M373.1 478.9V635.4H683.7" stroke="#5a5a5a" stroke-width="1.15" fill="none"/>
<path d="M370.9 628.6H373.1" stroke="#5a5a5a" stroke-width="1.1"/>
<text transform="translate(369.2,631.4) scale(1,1.07)" font-size="7.9" text-anchor="end" fill="#444" stroke="#444" stroke-width="0.22">0</text>
<path d="M370.9 582.26H373.1" stroke="#5a5a5a" stroke-width="1.1"/>
<text transform="translate(369.2,585.06) scale(1,1.07)" font-size="7.9" text-anchor="end" fill="#444" stroke="#444" stroke-width="0.22">2</text>
<path d="M370.9 535.92H373.1" stroke="#5a5a5a" stroke-width="1.1"/>
<text transform="translate(369.2,538.72) scale(1,1.07)" font-size="7.9" text-anchor="end" fill="#444" stroke="#444" stroke-width="0.22">4</text>
<path d="M370.9 489.58H373.1" stroke="#5a5a5a" stroke-width="1.1"/>
<text transform="translate(369.2,492.38) scale(1,1.07)" font-size="7.9" text-anchor="end" fill="#444" stroke="#444" stroke-width="0.22">6</text>
<path d="M403.3 635.4V637.6" stroke="#5a5a5a" stroke-width="1.1"/>
<text transform="translate(406.9,643.86) scale(1,0.95) rotate(-45)" font-size="7.83" text-anchor="end" fill="#333" stroke="#333" stroke-width="0.22">LARP1</text>
<path d="M453.32 635.4V637.6" stroke="#5a5a5a" stroke-width="1.1"/>
<text transform="translate(456.92,643.86) scale(1,0.95) rotate(-45)" font-size="7.83" text-anchor="end" fill="#333" stroke="#333" stroke-width="0.22">MAP1LC3A</text>
<path d="M503.34 635.4V637.6" stroke="#5a5a5a" stroke-width="1.1"/>
<text transform="translate(506.94,643.86) scale(1,0.95) rotate(-45)" font-size="7.83" text-anchor="end" fill="#333" stroke="#333" stroke-width="0.22">PRKAB2</text>
<path d="M553.36 635.4V637.6" stroke="#5a5a5a" stroke-width="1.1"/>
<text transform="translate(556.96,643.86) scale(1,0.95) rotate(-45)" font-size="7.83" text-anchor="end" fill="#333" stroke="#333" stroke-width="0.22">RUFY4</text>
<path d="M603.38 635.4V637.6" stroke="#5a5a5a" stroke-width="1.1"/>
<text transform="translate(606.98,643.86) scale(1,0.95) rotate(-45)" font-size="7.83" text-anchor="end" fill="#333" stroke="#333" stroke-width="0.22">TRIM21</text>
<path d="M653.4 635.4V637.6" stroke="#5a5a5a" stroke-width="1.1"/>
<text transform="translate(657,643.86) scale(1,0.95) rotate(-45)" font-size="7.83" text-anchor="end" fill="#333" stroke="#333" stroke-width="0.22">VPS35</text>
<text transform="translate(360.8,557.15) scale(1,1.07) rotate(-90)" font-size="7.46" text-anchor="middle" fill="#222" stroke="#222" stroke-width="0.22">mRNA expression</text>
<text transform="translate(403.3,486.35) scale(1,1.07)" font-size="7.62" text-anchor="middle" fill="#333" stroke="#333" stroke-width="0.22">ns</text>
<text transform="translate(453.32,486.35) scale(1,1.07)" font-size="7.62" text-anchor="middle" fill="#333" stroke="#333" stroke-width="0.22">ns</text>
<text transform="translate(503.34,486.35) scale(1,1.07)" font-size="7.62" text-anchor="middle" fill="#333" stroke="#333" stroke-width="0.22">ns</text>
<text transform="translate(553.36,486.35) scale(1,1.07)" font-size="7.62" text-anchor="middle" fill="#333" stroke="#333" stroke-width="0.22">ns</text>
<text transform="translate(603.38,486.35) scale(1,1.07)" font-size="7.62" text-anchor="middle" fill="#333" stroke="#333" stroke-width="0.22">ns</text>
<text transform="translate(653.4,485.6) scale(1,1.07)" font-size="7.62" text-anchor="middle" fill="#333" stroke="#333" stroke-width="0.22">*</text>
<text transform="translate(408.1,471.08) scale(1,1.07)" font-size="9.85" text-anchor="start" fill="#404040" stroke="#404040" stroke-width="0.22">N classification</text>
<path d="M493.9 460.67V462.79M493.9 470.61V472.73" stroke="#0000FF" stroke-width="1.0"/>
<rect x="488.08" y="462.79" width="11.64" height="7.83" fill="#fff" stroke="#0000FF" stroke-width="1.0"/>
<path d="M488.08 466.7H499.72" stroke="#0000FF" stroke-width="1.6"/>
<text transform="translate(506.3,469.7) scale(1,1.07)" font-size="8.4" text-anchor="start" fill="#222" stroke="#222" stroke-width="0.22">N0</text>
<path d="M530 460.67V462.79M530 470.61V472.73" stroke="#FF0000" stroke-width="1.0"/>
<rect x="524.18" y="462.79" width="11.64" height="7.83" fill="#fff" stroke="#FF0000" stroke-width="1.0"/>
<path d="M524.18 466.7H535.82" stroke="#FF0000" stroke-width="1.6"/>
<text transform="translate(542.3,469.7) scale(1,1.07)" font-size="8.4" text-anchor="start" fill="#222" stroke="#222" stroke-width="0.22">N1</text>
<path d="M565.8 460.67V462.79M565.8 470.61V472.73" stroke="#45982B" stroke-width="1.0"/>
<rect x="559.98" y="462.79" width="11.64" height="7.83" fill="#fff" stroke="#45982B" stroke-width="1.0"/>
<path d="M559.98 466.7H571.62" stroke="#45982B" stroke-width="1.6"/>
<text transform="translate(578.1,469.7) scale(1,1.07)" font-size="8.4" text-anchor="start" fill="#222" stroke="#222" stroke-width="0.22">N2</text>
<path d="M602 460.67V462.79M602 470.61V472.73" stroke="#FF8000" stroke-width="1.0"/>
<rect x="596.18" y="462.79" width="11.64" height="7.83" fill="#fff" stroke="#FF8000" stroke-width="1.0"/>
<path d="M596.18 466.7H607.82" stroke="#FF8000" stroke-width="1.6"/>
<text transform="translate(614.1,469.7) scale(1,1.07)" font-size="8.4" text-anchor="start" fill="#222" stroke="#222" stroke-width="0.22">N3</text>
<text transform="translate(-0.6,691.9) scale(1,1.07)" font-size="16.5" text-anchor="start" fill="#000" font-weight="bold">g</text>
<path d="M46.68 720V736.4M46.68 750.2V767.4" stroke="#0000FF" stroke-width="0.8" fill="none"/>
<rect x="38.06" y="736.4" width="17.23" height="13.8" fill="#fff" stroke="#0000FF" stroke-width="0.8"/>
<path d="M38.06 743.2H55.3" stroke="#0000FF" stroke-width="1.4"/>
<ellipse cx="46.68" cy="714.5" rx="1.45" ry="1.55" fill="#0000FF"/>
<ellipse cx="46.68" cy="771.1" rx="1.45" ry="1.55" fill="#0000FF"/>
<ellipse cx="46.68" cy="783.9" rx="1.45" ry="1.55" fill="#0000FF"/>
<path d="M66.72 734V737.7M66.72 750.2V757.4" stroke="#FF0000" stroke-width="0.8" fill="none"/>
<rect x="58.1" y="737.7" width="17.23" height="12.5" fill="#fff" stroke="#FF0000" stroke-width="0.8"/>
<path d="M58.1 746.9H75.34" stroke="#FF0000" stroke-width="1.4"/>
<path d="M96.78 729.5V769.4M96.78 795.6V833" stroke="#0000FF" stroke-width="0.8" fill="none"/>
<rect x="88.16" y="769.4" width="17.23" height="26.2" fill="#fff" stroke="#0000FF" stroke-width="0.8"/>
<path d="M88.16 782.9H105.4" stroke="#0000FF" stroke-width="1.4"/>
<ellipse cx="96.78" cy="725" rx="1.45" ry="1.55" fill="#0000FF"/>
<ellipse cx="96.78" cy="727" rx="1.45" ry="1.55" fill="#0000FF"/>
<ellipse cx="96.78" cy="835.5" rx="1.45" ry="1.55" fill="#0000FF"/>
<ellipse cx="96.78" cy="837.2" rx="1.45" ry="1.55" fill="#0000FF"/>
<ellipse cx="96.78" cy="840.8" rx="1.45" ry="1.55" fill="#0000FF"/>
<path d="M116.82 759.4V774.4M116.82 786.4V798.1" stroke="#FF0000" stroke-width="0.8" fill="none"/>
<rect x="108.2" y="774.4" width="17.23" height="12" fill="#fff" stroke="#FF0000" stroke-width="0.8"/>
<path d="M108.2 778.6H125.44" stroke="#FF0000" stroke-width="1.4"/>
<ellipse cx="116.82" cy="807.3" rx="1.45" ry="1.55" fill="#FF0000"/>
<path d="M146.88 765V790.6M146.88 807.3V831" stroke="#0000FF" stroke-width="0.8" fill="none"/>
<rect x="138.26" y="790.6" width="17.23" height="16.7" fill="#fff" stroke="#0000FF" stroke-width="0.8"/>
<path d="M138.26 798.1H155.5" stroke="#0000FF" stroke-width="1.4"/>
<ellipse cx="146.88" cy="739.9" rx="1.45" ry="1.55" fill="#0000FF"/>
<ellipse cx="146.88" cy="756.9" rx="1.45" ry="1.55" fill="#0000FF"/>
<ellipse cx="146.88" cy="763.3" rx="1.45" ry="1.55" fill="#0000FF"/>
<ellipse cx="146.88" cy="833.2" rx="1.45" ry="1.55" fill="#0000FF"/>
<ellipse cx="146.88" cy="844.8" rx="1.45" ry="1.55" fill="#0000FF"/>
<path d="M166.92 773.1V788.6M166.92 805.1V814.3" stroke="#FF0000" stroke-width="0.8" fill="none"/>
<rect x="158.3" y="788.6" width="17.23" height="16.5" fill="#fff" stroke="#FF0000" stroke-width="0.8"/>
<path d="M158.3 793.1H175.54" stroke="#FF0000" stroke-width="1.4"/>
<path d="M196.98 839.3V848.5M196.98 855.5V856.8" stroke="#0000FF" stroke-width="0.8" fill="none"/>
<rect x="188.36" y="848.5" width="17.23" height="7" fill="#fff" stroke="#0000FF" stroke-width="0.8"/>
<path d="M188.36 853.5H205.6" stroke="#0000FF" stroke-width="1.4"/>
<ellipse cx="196.98" cy="796.4" rx="1.45" ry="1.55" fill="#0000FF"/>
<ellipse cx="196.98" cy="800.6" rx="1.45" ry="1.55" fill="#0000FF"/>
<ellipse cx="196.98" cy="804.3" rx="1.45" ry="1.55" fill="#0000FF"/>
<ellipse cx="196.98" cy="810.6" rx="1.45" ry="1.55" fill="#0000FF"/>
<ellipse cx="196.98" cy="812.2" rx="1.45" ry="1.55" fill="#0000FF"/>
<ellipse cx="196.98" cy="813.8" rx="1.45" ry="1.55" fill="#0000FF"/>
<ellipse cx="196.98" cy="815.4" rx="1.45" ry="1.55" fill="#0000FF"/>
<ellipse cx="196.98" cy="817" rx="1.45" ry="1.55" fill="#0000FF"/>
<ellipse cx="196.98" cy="818.6" rx="1.45" ry="1.55" fill="#0000FF"/>
<ellipse cx="196.98" cy="820.2" rx="1.45" ry="1.55" fill="#0000FF"/>
<ellipse cx="196.98" cy="821.8" rx="1.45" ry="1.55" fill="#0000FF"/>
<ellipse cx="196.98" cy="823.4" rx="1.45" ry="1.55" fill="#0000FF"/>
<ellipse cx="196.98" cy="825" rx="1.45" ry="1.55" fill="#0000FF"/>
<ellipse cx="196.98" cy="826.6" rx="1.45" ry="1.55" fill="#0000FF"/>
<ellipse cx="196.98" cy="828.2" rx="1.45" ry="1.55" fill="#0000FF"/>
<ellipse cx="196.98" cy="829.8" rx="1.45" ry="1.55" fill="#0000FF"/>
<ellipse cx="196.98" cy="831.4" rx="1.45" ry="1.55" fill="#0000FF"/>
<ellipse cx="196.98" cy="833" rx="1.45" ry="1.55" fill="#0000FF"/>
<ellipse cx="196.98" cy="834.6" rx="1.45" ry="1.55" fill="#0000FF"/>
<ellipse cx="196.98" cy="836.2" rx="1.45" ry="1.55" fill="#0000FF"/>
<ellipse cx="196.98" cy="837.8" rx="1.45" ry="1.55" fill="#0000FF"/>
<path d="M217.02 845.5V851.3M217.02 856.3V856.8" stroke="#FF0000" stroke-width="0.8" fill="none"/>
<rect x="208.4" y="851.3" width="17.23" height="5" fill="#fff" stroke="#FF0000" stroke-width="0.8"/>
<path d="M208.4 854.3H225.64" stroke="#FF0000" stroke-width="1.4"/>
<ellipse cx="217.02" cy="839.3" rx="1.45" ry="1.55" fill="#FF0000"/>
<path d="M247.08 738.9V764.4M247.08 783.1V808.1" stroke="#0000FF" stroke-width="0.8" fill="none"/>
<rect x="238.46" y="764.4" width="17.23" height="18.7" fill="#fff" stroke="#0000FF" stroke-width="0.8"/>
<path d="M238.46 773.1H255.7" stroke="#0000FF" stroke-width="1.4"/>
<ellipse cx="247.08" cy="730.7" rx="1.45" ry="1.55" fill="#0000FF"/>
<ellipse cx="247.08" cy="735" rx="1.45" ry="1.55" fill="#0000FF"/>
<ellipse cx="247.08" cy="816.8" rx="1.45" ry="1.55" fill="#0000FF"/>
<ellipse cx="247.08" cy="818.4" rx="1.45" ry="1.55" fill="#0000FF"/>
<ellipse cx="247.08" cy="820" rx="1.45" ry="1.55" fill="#0000FF"/>
<ellipse cx="247.08" cy="821.6" rx="1.45" ry="1.55" fill="#0000FF"/>
<ellipse cx="247.08" cy="823.2" rx="1.45" ry="1.55" fill="#0000FF"/>
<path d="M267.12 759.9V764.4M267.12 789.9V796.9" stroke="#FF0000" stroke-width="0.8" fill="none"/>
<rect x="258.5" y="764.4" width="17.23" height="25.5" fill="#fff" stroke="#FF0000" stroke-width="0.8"/>
<path d="M258.5 768.2H275.74" stroke="#FF0000" stroke-width="1.4"/>
<path d="M297.18 729.5V753.2M297.18 768.2V789.9" stroke="#0000FF" stroke-width="0.8" fill="none"/>
<rect x="288.56" y="753.2" width="17.23" height="15" fill="#fff" stroke="#0000FF" stroke-width="0.8"/>
<path d="M288.56 761.9H305.8" stroke="#0000FF" stroke-width="1.4"/>
<ellipse cx="297.18" cy="719.5" rx="1.45" ry="1.55" fill="#0000FF"/>
<ellipse cx="297.18" cy="721.1" rx="1.45" ry="1.55" fill="#0000FF"/>
<ellipse cx="297.18" cy="722.7" rx="1.45" ry="1.55" fill="#0000FF"/>
<ellipse cx="297.18" cy="724.3" rx="1.45" ry="1.55" fill="#0000FF"/>
<ellipse cx="297.18" cy="725.9" rx="1.45" ry="1.55" fill="#0000FF"/>
<ellipse cx="297.18" cy="727.5" rx="1.45" ry="1.55" fill="#0000FF"/>
<ellipse cx="297.18" cy="799.4" rx="1.45" ry="1.55" fill="#0000FF"/>
<path d="M317.22 749.9V755.7M317.22 762.4V766.4" stroke="#FF0000" stroke-width="0.8" fill="none"/>
<rect x="308.6" y="755.7" width="17.23" height="6.7" fill="#fff" stroke="#FF0000" stroke-width="0.8"/>
<path d="M308.6 758.9H325.84" stroke="#FF0000" stroke-width="1.4"/>
<ellipse cx="317.22" cy="743.9" rx="1.45" ry="1.55" fill="#FF0000"/>
<path d="M26.5 707.4V864.1H337.1" stroke="#5a5a5a" stroke-width="1.15" fill="none"/>
<path d="M24.3 857.2H26.5" stroke="#5a5a5a" stroke-width="1.1"/>
<text transform="translate(22.6,860) scale(1,1.07)" font-size="7.9" text-anchor="end" fill="#444" stroke="#444" stroke-width="0.22">0</text>
<path d="M24.3 810.9H26.5" stroke="#5a5a5a" stroke-width="1.1"/>
<text transform="translate(22.6,813.7) scale(1,1.07)" font-size="7.9" text-anchor="end" fill="#444" stroke="#444" stroke-width="0.22">2</text>
<path d="M24.3 764.6H26.5" stroke="#5a5a5a" stroke-width="1.1"/>
<text transform="translate(22.6,767.4) scale(1,1.07)" font-size="7.9" text-anchor="end" fill="#444" stroke="#444" stroke-width="0.22">4</text>
<path d="M24.3 718.3H26.5" stroke="#5a5a5a" stroke-width="1.1"/>
<text transform="translate(22.6,721.1) scale(1,1.07)" font-size="7.9" text-anchor="end" fill="#444" stroke="#444" stroke-width="0.22">6</text>
<path d="M56.7 864.1V866.3" stroke="#5a5a5a" stroke-width="1.1"/>
<text transform="translate(60.3,872.56) scale(1,0.95) rotate(-45)" font-size="7.83" text-anchor="end" fill="#333" stroke="#333" stroke-width="0.22">LARP1</text>
<path d="M106.8 864.1V866.3" stroke="#5a5a5a" stroke-width="1.1"/>
<text transform="translate(110.4,872.56) scale(1,0.95) rotate(-45)" font-size="7.83" text-anchor="end" fill="#333" stroke="#333" stroke-width="0.22">MAP1LC3A</text>
<path d="M156.9 864.1V866.3" stroke="#5a5a5a" stroke-width="1.1"/>
<text transform="translate(160.5,872.56) scale(1,0.95) rotate(-45)" font-size="7.83" text-anchor="end" fill="#333" stroke="#333" stroke-width="0.22">PRKAB2</text>
<path d="M207 864.1V866.3" stroke="#5a5a5a" stroke-width="1.1"/>
<text transform="translate(210.6,872.56) scale(1,0.95) rotate(-45)" font-size="7.83" text-anchor="end" fill="#333" stroke="#333" stroke-width="0.22">RUFY4</text>
<path d="M257.1 864.1V866.3" stroke="#5a5a5a" stroke-width="1.1"/>
<text transform="translate(260.7,872.56) scale(1,0.95) rotate(-45)" font-size="7.83" text-anchor="end" fill="#333" stroke="#333" stroke-width="0.22">TRIM21</text>
<path d="M307.2 864.1V866.3" stroke="#5a5a5a" stroke-width="1.1"/>
<text transform="translate(310.8,872.56) scale(1,0.95) rotate(-45)" font-size="7.83" text-anchor="end" fill="#333" stroke="#333" stroke-width="0.22">VPS35</text>
<text transform="translate(14.1,785.75) scale(1,1.07) rotate(-90)" font-size="7.46" text-anchor="middle" fill="#222" stroke="#222" stroke-width="0.22">mRNA expression</text>
<text transform="translate(56.7,715.15) scale(1,1.07)" font-size="7.62" text-anchor="middle" fill="#333" stroke="#333" stroke-width="0.22">ns</text>
<text transform="translate(106.8,715.15) scale(1,1.07)" font-size="7.62" text-anchor="middle" fill="#333" stroke="#333" stroke-width="0.22">ns</text>
<text transform="translate(156.9,715.15) scale(1,1.07)" font-size="7.62" text-anchor="middle" fill="#333" stroke="#333" stroke-width="0.22">ns</text>
<text transform="translate(207,715.15) scale(1,1.07)" font-size="7.62" text-anchor="middle" fill="#333" stroke="#333" stroke-width="0.22">ns</text>
<text transform="translate(257.1,715.15) scale(1,1.07)" font-size="7.62" text-anchor="middle" fill="#333" stroke="#333" stroke-width="0.22">ns</text>
<text transform="translate(307.2,715.15) scale(1,1.07)" font-size="7.62" text-anchor="middle" fill="#333" stroke="#333" stroke-width="0.22">ns</text>
<text transform="translate(86.4,698.08) scale(1,1.07)" font-size="9.85" text-anchor="start" fill="#404040" stroke="#404040" stroke-width="0.22">M classification</text>
<path d="M164.6 688.67V690.79M164.6 698.61V700.73" stroke="#0000FF" stroke-width="1.0"/>
<rect x="158.78" y="690.79" width="11.64" height="7.83" fill="#fff" stroke="#0000FF" stroke-width="1.0"/>
<path d="M158.78 694.7H170.42" stroke="#0000FF" stroke-width="1.6"/>
<text transform="translate(176.8,697.7) scale(1,1.07)" font-size="8.4" text-anchor="start" fill="#222" stroke="#222" stroke-width="0.22">M0</text>
<path d="M201.9 688.67V690.79M201.9 698.61V700.73" stroke="#FF0000" stroke-width="1.0"/>
<rect x="196.08" y="690.79" width="11.64" height="7.83" fill="#fff" stroke="#FF0000" stroke-width="1.0"/>
<path d="M196.08 694.7H207.72" stroke="#FF0000" stroke-width="1.6"/>
<text transform="translate(213.8,697.7) scale(1,1.07)" font-size="8.4" text-anchor="start" fill="#222" stroke="#222" stroke-width="0.22">M1</text>
<text transform="translate(345,692.9) scale(1,1.07)" font-size="16.5" text-anchor="start" fill="#000" font-weight="bold">h</text>
<path d="M388.29 726.2V737.4M388.29 752.4V770.6" stroke="#0000FF" stroke-width="0.8" fill="none"/>
<rect x="383.79" y="737.4" width="9" height="15" fill="#fff" stroke="#0000FF" stroke-width="0.8"/>
<path d="M383.79 744.4H392.8" stroke="#0000FF" stroke-width="1.4"/>
<path d="M398.3 720V736.4M398.3 749.4V767.4" stroke="#FF0000" stroke-width="0.8" fill="none"/>
<rect x="393.8" y="736.4" width="9" height="13" fill="#fff" stroke="#FF0000" stroke-width="0.8"/>
<path d="M393.8 742.4H402.8" stroke="#FF0000" stroke-width="1.4"/>
<ellipse cx="398.3" cy="714.5" rx="1.45" ry="1.55" fill="#FF0000"/>
<ellipse cx="398.3" cy="771.1" rx="1.45" ry="1.55" fill="#FF0000"/>
<path d="M408.3 719.5V735.7M408.3 748.2V766.4" stroke="#45982B" stroke-width="0.8" fill="none"/>
<rect x="403.8" y="735.7" width="9" height="12.5" fill="#fff" stroke="#45982B" stroke-width="0.8"/>
<path d="M403.8 743.2H412.8" stroke="#45982B" stroke-width="1.4"/>
<ellipse cx="408.3" cy="769.4" rx="1.45" ry="1.55" fill="#45982B"/>
<ellipse cx="408.3" cy="783.9" rx="1.45" ry="1.55" fill="#45982B"/>
<path d="M418.31 734V737.4M418.31 750.2V757.4" stroke="#FF8000" stroke-width="0.8" fill="none"/>
<rect x="413.8" y="737.4" width="9" height="12.8" fill="#fff" stroke="#FF8000" stroke-width="0.8"/>
<path d="M413.8 746.4H422.81" stroke="#FF8000" stroke-width="1.4"/>
<path d="M438.31 740.7V768.2M438.31 792.4V819.3" stroke="#0000FF" stroke-width="0.8" fill="none"/>
<rect x="433.81" y="768.2" width="9" height="24.2" fill="#fff" stroke="#0000FF" stroke-width="0.8"/>
<path d="M433.81 779.4H442.82" stroke="#0000FF" stroke-width="1.4"/>
<ellipse cx="438.31" cy="725" rx="1.45" ry="1.55" fill="#0000FF"/>
<path d="M448.32 734.5V769.4M448.32 796.9V836.3" stroke="#FF0000" stroke-width="0.8" fill="none"/>
<rect x="443.82" y="769.4" width="9" height="27.5" fill="#fff" stroke="#FF0000" stroke-width="0.8"/>
<path d="M443.82 783.4H452.82" stroke="#FF0000" stroke-width="1.4"/>
<ellipse cx="448.32" cy="726.5" rx="1.45" ry="1.55" fill="#FF0000"/>
<ellipse cx="448.32" cy="840.5" rx="1.45" ry="1.55" fill="#FF0000"/>
<path d="M458.32 734.5V768.9M458.32 793.6V826.8" stroke="#45982B" stroke-width="0.8" fill="none"/>
<rect x="453.82" y="768.9" width="9" height="24.7" fill="#fff" stroke="#45982B" stroke-width="0.8"/>
<path d="M453.82 782.4H462.82" stroke="#45982B" stroke-width="1.4"/>
<ellipse cx="458.32" cy="729" rx="1.45" ry="1.55" fill="#45982B"/>
<ellipse cx="458.32" cy="834.3" rx="1.45" ry="1.55" fill="#45982B"/>
<path d="M468.33 758.9V774.4M468.33 786.1V798.1" stroke="#FF8000" stroke-width="0.8" fill="none"/>
<rect x="463.82" y="774.4" width="9" height="11.7" fill="#fff" stroke="#FF8000" stroke-width="0.8"/>
<path d="M463.82 778.1H472.83" stroke="#FF8000" stroke-width="1.4"/>
<ellipse cx="468.33" cy="807.3" rx="1.45" ry="1.55" fill="#FF8000"/>
<path d="M488.33 768.9V791.1M488.33 809.8V825.6" stroke="#0000FF" stroke-width="0.8" fill="none"/>
<rect x="483.83" y="791.1" width="9" height="18.7" fill="#fff" stroke="#0000FF" stroke-width="0.8"/>
<path d="M483.83 799.9H492.84" stroke="#0000FF" stroke-width="1.4"/>
<path d="M498.34 768.2V789.4M498.34 806.3V830.6" stroke="#FF0000" stroke-width="0.8" fill="none"/>
<rect x="493.84" y="789.4" width="9" height="16.9" fill="#fff" stroke="#FF0000" stroke-width="0.8"/>
<path d="M493.84 796.9H502.84" stroke="#FF0000" stroke-width="1.4"/>
<ellipse cx="498.34" cy="739.9" rx="1.45" ry="1.55" fill="#FF0000"/>
<ellipse cx="498.34" cy="763.2" rx="1.45" ry="1.55" fill="#FF0000"/>
<ellipse cx="498.34" cy="844.8" rx="1.45" ry="1.55" fill="#FF0000"/>
<path d="M508.34 774.4V791.1M508.34 803.8V822.3" stroke="#45982B" stroke-width="0.8" fill="none"/>
<rect x="503.84" y="791.1" width="9" height="12.7" fill="#fff" stroke="#45982B" stroke-width="0.8"/>
<path d="M503.84 798.9H512.84" stroke="#45982B" stroke-width="1.4"/>
<ellipse cx="508.34" cy="756.9" rx="1.45" ry="1.55" fill="#45982B"/>
<ellipse cx="508.34" cy="765.2" rx="1.45" ry="1.55" fill="#45982B"/>
<ellipse cx="508.34" cy="769.9" rx="1.45" ry="1.55" fill="#45982B"/>
<ellipse cx="508.34" cy="828.1" rx="1.45" ry="1.55" fill="#45982B"/>
<ellipse cx="508.34" cy="829.7" rx="1.45" ry="1.55" fill="#45982B"/>
<ellipse cx="508.34" cy="831.3" rx="1.45" ry="1.55" fill="#45982B"/>
<ellipse cx="508.34" cy="832.9" rx="1.45" ry="1.55" fill="#45982B"/>
<path d="M518.35 772.6V788.1M518.35 804.8V814.3" stroke="#FF8000" stroke-width="0.8" fill="none"/>
<rect x="513.84" y="788.1" width="9" height="16.7" fill="#fff" stroke="#FF8000" stroke-width="0.8"/>
<path d="M513.84 792.6H522.85" stroke="#FF8000" stroke-width="1.4"/>
<path d="M538.35 845.5V851.3M538.35 854.8V856" stroke="#0000FF" stroke-width="0.8" fill="none"/>
<rect x="533.85" y="851.3" width="9" height="3.5" fill="#fff" stroke="#0000FF" stroke-width="0.8"/>
<path d="M533.85 853H542.86" stroke="#0000FF" stroke-width="1.4"/>
<ellipse cx="538.35" cy="814.8" rx="1.45" ry="1.55" fill="#0000FF"/>
<ellipse cx="538.35" cy="823.1" rx="1.45" ry="1.55" fill="#0000FF"/>
<ellipse cx="538.35" cy="826.8" rx="1.45" ry="1.55" fill="#0000FF"/>
<ellipse cx="538.35" cy="832.3" rx="1.45" ry="1.55" fill="#0000FF"/>
<ellipse cx="538.35" cy="833.9" rx="1.45" ry="1.55" fill="#0000FF"/>
<ellipse cx="538.35" cy="835.5" rx="1.45" ry="1.55" fill="#0000FF"/>
<ellipse cx="538.35" cy="837.1" rx="1.45" ry="1.55" fill="#0000FF"/>
<ellipse cx="538.35" cy="838.7" rx="1.45" ry="1.55" fill="#0000FF"/>
<ellipse cx="538.35" cy="840.3" rx="1.45" ry="1.55" fill="#0000FF"/>
<ellipse cx="538.35" cy="841.9" rx="1.45" ry="1.55" fill="#0000FF"/>
<ellipse cx="538.35" cy="843.5" rx="1.45" ry="1.55" fill="#0000FF"/>
<path d="M548.36 838V847.3M548.36 854.8V856" stroke="#FF0000" stroke-width="0.8" fill="none"/>
<rect x="543.86" y="847.3" width="9" height="7.5" fill="#fff" stroke="#FF0000" stroke-width="0.8"/>
<path d="M543.86 852.5H552.86" stroke="#FF0000" stroke-width="1.4"/>
<ellipse cx="548.36" cy="796.4" rx="1.45" ry="1.55" fill="#FF0000"/>
<ellipse cx="548.36" cy="800.6" rx="1.45" ry="1.55" fill="#FF0000"/>
<ellipse cx="548.36" cy="804.3" rx="1.45" ry="1.55" fill="#FF0000"/>
<ellipse cx="548.36" cy="810.6" rx="1.45" ry="1.55" fill="#FF0000"/>
<ellipse cx="548.36" cy="812.2" rx="1.45" ry="1.55" fill="#FF0000"/>
<ellipse cx="548.36" cy="813.8" rx="1.45" ry="1.55" fill="#FF0000"/>
<ellipse cx="548.36" cy="815.4" rx="1.45" ry="1.55" fill="#FF0000"/>
<ellipse cx="548.36" cy="817" rx="1.45" ry="1.55" fill="#FF0000"/>
<ellipse cx="548.36" cy="818.6" rx="1.45" ry="1.55" fill="#FF0000"/>
<ellipse cx="548.36" cy="820.2" rx="1.45" ry="1.55" fill="#FF0000"/>
<ellipse cx="548.36" cy="821.8" rx="1.45" ry="1.55" fill="#FF0000"/>
<ellipse cx="548.36" cy="823.4" rx="1.45" ry="1.55" fill="#FF0000"/>
<ellipse cx="548.36" cy="825" rx="1.45" ry="1.55" fill="#FF0000"/>
<ellipse cx="548.36" cy="826.6" rx="1.45" ry="1.55" fill="#FF0000"/>
<ellipse cx="548.36" cy="828.2" rx="1.45" ry="1.55" fill="#FF0000"/>
<ellipse cx="548.36" cy="829.8" rx="1.45" ry="1.55" fill="#FF0000"/>
<ellipse cx="548.36" cy="831.4" rx="1.45" ry="1.55" fill="#FF0000"/>
<ellipse cx="548.36" cy="833" rx="1.45" ry="1.55" fill="#FF0000"/>
<ellipse cx="548.36" cy="834.6" rx="1.45" ry="1.55" fill="#FF0000"/>
<path d="M558.36 842.3V849.8M558.36 854.8V856" stroke="#45982B" stroke-width="0.8" fill="none"/>
<rect x="553.86" y="849.8" width="9" height="5" fill="#fff" stroke="#45982B" stroke-width="0.8"/>
<path d="M553.86 853.5H562.86" stroke="#45982B" stroke-width="1.4"/>
<ellipse cx="558.36" cy="811.1" rx="1.45" ry="1.55" fill="#45982B"/>
<ellipse cx="558.36" cy="823.1" rx="1.45" ry="1.55" fill="#45982B"/>
<ellipse cx="558.36" cy="824.3" rx="1.45" ry="1.55" fill="#45982B"/>
<ellipse cx="558.36" cy="832.3" rx="1.45" ry="1.55" fill="#45982B"/>
<ellipse cx="558.36" cy="834.3" rx="1.45" ry="1.55" fill="#45982B"/>
<path d="M568.37 845.5V851M568.37 856V856.8" stroke="#FF8000" stroke-width="0.8" fill="none"/>
<rect x="563.86" y="851" width="9" height="5" fill="#fff" stroke="#FF8000" stroke-width="0.8"/>
<path d="M563.86 853.5H572.87" stroke="#FF8000" stroke-width="1.4"/>
<ellipse cx="568.37" cy="838.8" rx="1.45" ry="1.55" fill="#FF8000"/>
<path d="M588.37 742.7V765.7M588.37 782.4V805.6" stroke="#0000FF" stroke-width="0.8" fill="none"/>
<rect x="583.87" y="765.7" width="9" height="16.7" fill="#fff" stroke="#0000FF" stroke-width="0.8"/>
<path d="M583.87 773.9H592.88" stroke="#0000FF" stroke-width="1.4"/>
<ellipse cx="588.37" cy="816.8" rx="1.45" ry="1.55" fill="#0000FF"/>
<path d="M598.38 738.2V764.4M598.38 783.1V808.1" stroke="#FF0000" stroke-width="0.8" fill="none"/>
<rect x="593.88" y="764.4" width="9" height="18.7" fill="#fff" stroke="#FF0000" stroke-width="0.8"/>
<path d="M593.88 772.4H602.88" stroke="#FF0000" stroke-width="1.4"/>
<ellipse cx="598.38" cy="730" rx="1.45" ry="1.55" fill="#FF0000"/>
<ellipse cx="598.38" cy="734.5" rx="1.45" ry="1.55" fill="#FF0000"/>
<ellipse cx="598.38" cy="819.8" rx="1.45" ry="1.55" fill="#FF0000"/>
<ellipse cx="598.38" cy="823.8" rx="1.45" ry="1.55" fill="#FF0000"/>
<path d="M608.38 739.9V763.7M608.38 783.6V804.3" stroke="#45982B" stroke-width="0.8" fill="none"/>
<rect x="603.88" y="763.7" width="9" height="19.9" fill="#fff" stroke="#45982B" stroke-width="0.8"/>
<path d="M603.88 774.9H612.88" stroke="#45982B" stroke-width="1.4"/>
<ellipse cx="608.38" cy="818.6" rx="1.45" ry="1.55" fill="#45982B"/>
<path d="M618.39 759.4V764.4M618.39 789.9V796.9" stroke="#FF8000" stroke-width="0.8" fill="none"/>
<rect x="613.88" y="764.4" width="9" height="25.5" fill="#fff" stroke="#FF8000" stroke-width="0.8"/>
<path d="M613.88 767.7H622.89" stroke="#FF8000" stroke-width="1.4"/>
<path d="M638.39 739.4V753.7M638.39 768.6V789.9" stroke="#0000FF" stroke-width="0.8" fill="none"/>
<rect x="633.89" y="753.7" width="9" height="14.9" fill="#fff" stroke="#0000FF" stroke-width="0.8"/>
<path d="M633.89 761.4H642.9" stroke="#0000FF" stroke-width="1.4"/>
<ellipse cx="638.39" cy="722" rx="1.45" ry="1.55" fill="#0000FF"/>
<ellipse cx="638.39" cy="724" rx="1.45" ry="1.55" fill="#0000FF"/>
<ellipse cx="638.39" cy="728.2" rx="1.45" ry="1.55" fill="#0000FF"/>
<path d="M648.4 730.7V753.2M648.4 768.4V789.4" stroke="#FF0000" stroke-width="0.8" fill="none"/>
<rect x="643.9" y="753.2" width="9" height="15.2" fill="#fff" stroke="#FF0000" stroke-width="0.8"/>
<path d="M643.9 762.4H652.9" stroke="#FF0000" stroke-width="1.4"/>
<ellipse cx="648.4" cy="719.5" rx="1.45" ry="1.55" fill="#FF0000"/>
<ellipse cx="648.4" cy="721.1" rx="1.45" ry="1.55" fill="#FF0000"/>
<ellipse cx="648.4" cy="722.7" rx="1.45" ry="1.55" fill="#FF0000"/>
<ellipse cx="648.4" cy="724.3" rx="1.45" ry="1.55" fill="#FF0000"/>
<ellipse cx="648.4" cy="725.9" rx="1.45" ry="1.55" fill="#FF0000"/>
<ellipse cx="648.4" cy="727.5" rx="1.45" ry="1.55" fill="#FF0000"/>
<ellipse cx="648.4" cy="729.1" rx="1.45" ry="1.55" fill="#FF0000"/>
<path d="M658.4 735V752.4M658.4 767.4V783.1" stroke="#45982B" stroke-width="0.8" fill="none"/>
<rect x="653.9" y="752.4" width="9" height="15" fill="#fff" stroke="#45982B" stroke-width="0.8"/>
<path d="M653.9 759.4H662.9" stroke="#45982B" stroke-width="1.4"/>
<ellipse cx="658.4" cy="728.2" rx="1.45" ry="1.55" fill="#45982B"/>
<ellipse cx="658.4" cy="799.4" rx="1.45" ry="1.55" fill="#45982B"/>
<path d="M668.41 749.4V755.7M668.41 762.4V766.4" stroke="#FF8000" stroke-width="0.8" fill="none"/>
<rect x="663.9" y="755.7" width="9" height="6.7" fill="#fff" stroke="#FF8000" stroke-width="0.8"/>
<path d="M663.9 758.9H672.91" stroke="#FF8000" stroke-width="1.4"/>
<ellipse cx="668.41" cy="743.7" rx="1.45" ry="1.55" fill="#FF8000"/>
<path d="M373 707.4V863.8H683.7" stroke="#5a5a5a" stroke-width="1.15" fill="none"/>
<path d="M370.8 856.8H373" stroke="#5a5a5a" stroke-width="1.1"/>
<text transform="translate(369.1,859.6) scale(1,1.07)" font-size="7.9" text-anchor="end" fill="#444" stroke="#444" stroke-width="0.22">0</text>
<path d="M370.8 810.64H373" stroke="#5a5a5a" stroke-width="1.1"/>
<text transform="translate(369.1,813.44) scale(1,1.07)" font-size="7.9" text-anchor="end" fill="#444" stroke="#444" stroke-width="0.22">2</text>
<path d="M370.8 764.48H373" stroke="#5a5a5a" stroke-width="1.1"/>
<text transform="translate(369.1,767.28) scale(1,1.07)" font-size="7.9" text-anchor="end" fill="#444" stroke="#444" stroke-width="0.22">4</text>
<path d="M370.8 718.32H373" stroke="#5a5a5a" stroke-width="1.1"/>
<text transform="translate(369.1,721.12) scale(1,1.07)" font-size="7.9" text-anchor="end" fill="#444" stroke="#444" stroke-width="0.22">6</text>
<path d="M403.3 863.8V866" stroke="#5a5a5a" stroke-width="1.1"/>
<text transform="translate(406.9,872.26) scale(1,0.95) rotate(-45)" font-size="7.83" text-anchor="end" fill="#333" stroke="#333" stroke-width="0.22">LARP1</text>
<path d="M453.32 863.8V866" stroke="#5a5a5a" stroke-width="1.1"/>
<text transform="translate(456.92,872.26) scale(1,0.95) rotate(-45)" font-size="7.83" text-anchor="end" fill="#333" stroke="#333" stroke-width="0.22">MAP1LC3A</text>
<path d="M503.34 863.8V866" stroke="#5a5a5a" stroke-width="1.1"/>
<text transform="translate(506.94,872.26) scale(1,0.95) rotate(-45)" font-size="7.83" text-anchor="end" fill="#333" stroke="#333" stroke-width="0.22">PRKAB2</text>
<path d="M553.36 863.8V866" stroke="#5a5a5a" stroke-width="1.1"/>
<text transform="translate(556.96,872.26) scale(1,0.95) rotate(-45)" font-size="7.83" text-anchor="end" fill="#333" stroke="#333" stroke-width="0.22">RUFY4</text>
<path d="M603.38 863.8V866" stroke="#5a5a5a" stroke-width="1.1"/>
<text transform="translate(606.98,872.26) scale(1,0.95) rotate(-45)" font-size="7.83" text-anchor="end" fill="#333" stroke="#333" stroke-width="0.22">TRIM21</text>
<path d="M653.4 863.8V866" stroke="#5a5a5a" stroke-width="1.1"/>
<text transform="translate(657,872.26) scale(1,0.95) rotate(-45)" font-size="7.83" text-anchor="end" fill="#333" stroke="#333" stroke-width="0.22">VPS35</text>
<text transform="translate(360.5,785.6) scale(1,1.07) rotate(-90)" font-size="7.46" text-anchor="middle" fill="#222" stroke="#222" stroke-width="0.22">mRNA expression</text>
<text transform="translate(403.3,715.15) scale(1,1.07)" font-size="7.62" text-anchor="middle" fill="#333" stroke="#333" stroke-width="0.22">ns</text>
<text transform="translate(453.32,715.15) scale(1,1.07)" font-size="7.62" text-anchor="middle" fill="#333" stroke="#333" stroke-width="0.22">ns</text>
<text transform="translate(503.34,715.15) scale(1,1.07)" font-size="7.62" text-anchor="middle" fill="#333" stroke="#333" stroke-width="0.22">ns</text>
<text transform="translate(553.36,715.15) scale(1,1.07)" font-size="7.62" text-anchor="middle" fill="#333" stroke="#333" stroke-width="0.22">ns</text>
<text transform="translate(603.38,715.15) scale(1,1.07)" font-size="7.62" text-anchor="middle" fill="#333" stroke="#333" stroke-width="0.22">ns</text>
<text transform="translate(653.4,715.15) scale(1,1.07)" font-size="7.62" text-anchor="middle" fill="#333" stroke="#333" stroke-width="0.22">ns</text>
<text transform="translate(425.1,696.58) scale(1,1.07)" font-size="9.85" text-anchor="start" fill="#404040" stroke="#404040" stroke-width="0.22">TNM stage</text>
<path d="M490.3 687.17V689.29M490.3 697.11V699.23" stroke="#0000FF" stroke-width="1.0"/>
<rect x="484.48" y="689.29" width="11.64" height="7.83" fill="#fff" stroke="#0000FF" stroke-width="1.0"/>
<path d="M484.48 693.2H496.12" stroke="#0000FF" stroke-width="1.6"/>
<text transform="translate(502.6,696.2) scale(1,1.07)" font-size="8.4" text-anchor="start" fill="#222" stroke="#222" stroke-width="0.22">I</text>
<path d="M517.8 687.17V689.29M517.8 697.11V699.23" stroke="#FF0000" stroke-width="1.0"/>
<rect x="511.98" y="689.29" width="11.64" height="7.83" fill="#fff" stroke="#FF0000" stroke-width="1.0"/>
<path d="M511.98 693.2H523.62" stroke="#FF0000" stroke-width="1.6"/>
<text transform="translate(529.8,696.2) scale(1,1.07)" font-size="8.4" text-anchor="start" fill="#222" stroke="#222" stroke-width="0.22">II</text>
<path d="M548 687.17V689.29M548 697.11V699.23" stroke="#45982B" stroke-width="1.0"/>
<rect x="542.18" y="689.29" width="11.64" height="7.83" fill="#fff" stroke="#45982B" stroke-width="1.0"/>
<path d="M542.18 693.2H553.82" stroke="#45982B" stroke-width="1.6"/>
<text transform="translate(560.4,696.2) scale(1,1.07)" font-size="8.4" text-anchor="start" fill="#222" stroke="#222" stroke-width="0.22">III</text>
<path d="M580.1 687.17V689.29M580.1 697.11V699.23" stroke="#FF8000" stroke-width="1.0"/>
<rect x="574.28" y="689.29" width="11.64" height="7.83" fill="#fff" stroke="#FF8000" stroke-width="1.0"/>
<path d="M574.28 693.2H585.92" stroke="#FF8000" stroke-width="1.6"/>
<text transform="translate(592.3,696.2) scale(1,1.07)" font-size="8.4" text-anchor="start" fill="#222" stroke="#222" stroke-width="0.22">IV</text>
</svg>
</body></html>
